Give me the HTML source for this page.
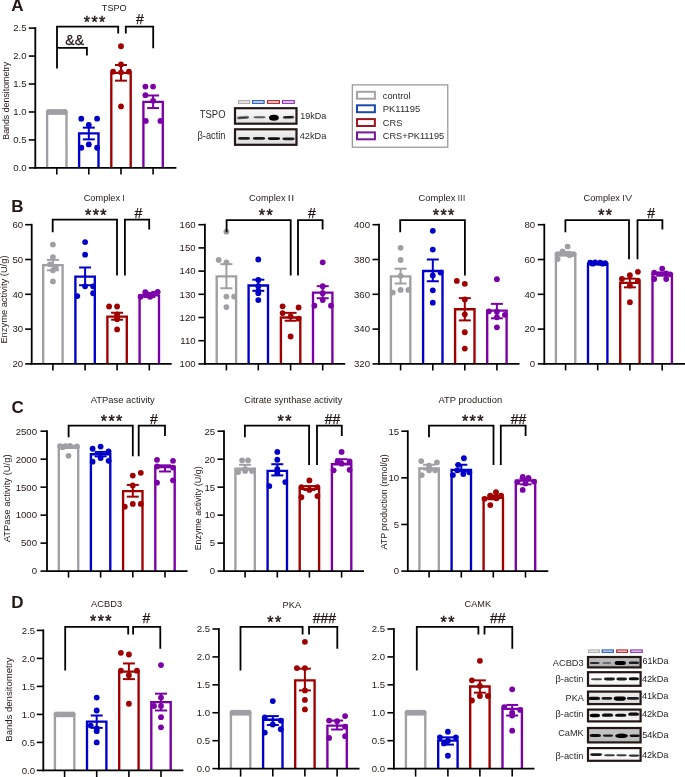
<!DOCTYPE html>
<html><head><meta charset="utf-8"><style>
html,body{margin:0;padding:0;background:#fff;width:685px;height:777px;overflow:hidden}
svg{display:block;will-change:transform}
text{font-family:"Liberation Sans", sans-serif}
</style></head><body>
<svg width="685" height="777" viewBox="0 0 685 777">
<defs><filter id="bl" x="-50%" y="-100%" width="200%" height="300%"><feGaussianBlur stdDeviation="0.7"/></filter></defs>
<rect width="685" height="777" fill="#fff"/>
<path d="M47.10,167.90 V111.98 H66.50 V167.90" fill="none" stroke="#a0a0a4" stroke-width="2.35"/>
<path d="M79.10,167.90 V133.40 H98.50 V167.90" fill="none" stroke="#0000c8" stroke-width="2.35"/>
<path d="M111.30,167.90 V72.84 H130.70 V167.90" fill="none" stroke="#a00000" stroke-width="2.35"/>
<path d="M143.40,167.90 V101.91 H162.80 V167.90" fill="none" stroke="#7b00a8" stroke-width="2.35"/>
<circle cx="48.80" cy="111.98" r="2.9" fill="#a0a0a4"/>
<circle cx="52.00" cy="111.98" r="2.9" fill="#a0a0a4"/>
<circle cx="55.20" cy="111.98" r="2.9" fill="#a0a0a4"/>
<circle cx="58.40" cy="111.98" r="2.9" fill="#a0a0a4"/>
<circle cx="61.60" cy="111.98" r="2.9" fill="#a0a0a4"/>
<circle cx="64.80" cy="111.98" r="2.9" fill="#a0a0a4"/>
<circle cx="81.30" cy="118.69" r="2.9" fill="#0000c8"/>
<circle cx="97.10" cy="118.69" r="2.9" fill="#0000c8"/>
<circle cx="88.80" cy="124.84" r="2.9" fill="#0000c8"/>
<circle cx="88.80" cy="144.41" r="2.9" fill="#0000c8"/>
<circle cx="81.30" cy="147.77" r="2.9" fill="#0000c8"/>
<circle cx="97.10" cy="147.77" r="2.9" fill="#0000c8"/>
<circle cx="121.00" cy="46.27" r="2.9" fill="#a00000"/>
<circle cx="121.00" cy="64.45" r="2.9" fill="#a00000"/>
<circle cx="113.10" cy="71.72" r="2.9" fill="#a00000"/>
<circle cx="128.90" cy="71.72" r="2.9" fill="#a00000"/>
<circle cx="121.00" cy="72.28" r="2.9" fill="#a00000"/>
<circle cx="121.00" cy="106.39" r="2.9" fill="#a00000"/>
<circle cx="145.40" cy="86.54" r="2.9" fill="#7b00a8"/>
<circle cx="153.10" cy="86.54" r="2.9" fill="#7b00a8"/>
<circle cx="145.40" cy="95.20" r="2.9" fill="#7b00a8"/>
<circle cx="153.10" cy="100.80" r="2.9" fill="#7b00a8"/>
<circle cx="145.80" cy="120.93" r="2.9" fill="#7b00a8"/>
<circle cx="160.40" cy="120.93" r="2.9" fill="#7b00a8"/>
<line x1="88.80" y1="139.38" x2="88.80" y2="127.64" stroke="#0000c8" stroke-width="2.0" stroke-linecap="butt"/>
<line x1="82.80" y1="127.64" x2="94.80" y2="127.64" stroke="#0000c8" stroke-width="2.0" stroke-linecap="butt"/>
<line x1="82.80" y1="139.38" x2="94.80" y2="139.38" stroke="#0000c8" stroke-width="2.0" stroke-linecap="butt"/>
<line x1="121.00" y1="80.66" x2="121.00" y2="65.01" stroke="#a00000" stroke-width="2.0" stroke-linecap="butt"/>
<line x1="115.00" y1="65.01" x2="127.00" y2="65.01" stroke="#a00000" stroke-width="2.0" stroke-linecap="butt"/>
<line x1="115.00" y1="80.66" x2="127.00" y2="80.66" stroke="#a00000" stroke-width="2.0" stroke-linecap="butt"/>
<line x1="153.10" y1="108.07" x2="153.10" y2="95.48" stroke="#7b00a8" stroke-width="2.0" stroke-linecap="butt"/>
<line x1="147.10" y1="95.48" x2="159.10" y2="95.48" stroke="#7b00a8" stroke-width="2.0" stroke-linecap="butt"/>
<line x1="147.10" y1="108.07" x2="159.10" y2="108.07" stroke="#7b00a8" stroke-width="2.0" stroke-linecap="butt"/>
<line x1="35.30" y1="27.20" x2="35.30" y2="168.80" stroke="#000" stroke-width="1.8" stroke-linecap="butt"/>
<line x1="34.40" y1="167.90" x2="176.40" y2="167.90" stroke="#000" stroke-width="1.8" stroke-linecap="butt"/>
<line x1="28.80" y1="167.90" x2="35.30" y2="167.90" stroke="#000" stroke-width="1.6" stroke-linecap="butt"/>
<text x="26.50" y="171.25" font-size="9.6" text-anchor="end" fill="#231815" font-family='"Liberation Sans", sans-serif'>0.0</text>
<line x1="28.80" y1="139.94" x2="35.30" y2="139.94" stroke="#000" stroke-width="1.6" stroke-linecap="butt"/>
<text x="26.50" y="143.29" font-size="9.6" text-anchor="end" fill="#231815" font-family='"Liberation Sans", sans-serif'>0.5</text>
<line x1="28.80" y1="111.98" x2="35.30" y2="111.98" stroke="#000" stroke-width="1.6" stroke-linecap="butt"/>
<text x="26.50" y="115.33" font-size="9.6" text-anchor="end" fill="#231815" font-family='"Liberation Sans", sans-serif'>1.0</text>
<line x1="28.80" y1="84.02" x2="35.30" y2="84.02" stroke="#000" stroke-width="1.6" stroke-linecap="butt"/>
<text x="26.50" y="87.37" font-size="9.6" text-anchor="end" fill="#231815" font-family='"Liberation Sans", sans-serif'>1.5</text>
<line x1="28.80" y1="56.06" x2="35.30" y2="56.06" stroke="#000" stroke-width="1.6" stroke-linecap="butt"/>
<text x="26.50" y="59.41" font-size="9.6" text-anchor="end" fill="#231815" font-family='"Liberation Sans", sans-serif'>2.0</text>
<line x1="28.80" y1="28.10" x2="35.30" y2="28.10" stroke="#000" stroke-width="1.6" stroke-linecap="butt"/>
<text x="26.50" y="31.45" font-size="9.6" text-anchor="end" fill="#231815" font-family='"Liberation Sans", sans-serif'>2.5</text>
<line x1="56.80" y1="167.90" x2="56.80" y2="174.40" stroke="#000" stroke-width="1.6" stroke-linecap="butt"/>
<line x1="88.80" y1="167.90" x2="88.80" y2="174.40" stroke="#000" stroke-width="1.6" stroke-linecap="butt"/>
<line x1="121.00" y1="167.90" x2="121.00" y2="174.40" stroke="#000" stroke-width="1.6" stroke-linecap="butt"/>
<line x1="153.10" y1="167.90" x2="153.10" y2="174.40" stroke="#000" stroke-width="1.6" stroke-linecap="butt"/>
<text x="101.80" y="11.00" font-size="9.3" fill="#231815" font-family='"Liberation Sans", sans-serif' textLength="24.90" lengthAdjust="spacingAndGlyphs" >TSPO</text>
<text x="0" y="0" font-size="9.3" fill="#231815" font-family='"Liberation Sans", sans-serif' textLength="77.80" lengthAdjust="spacingAndGlyphs" transform="translate(8.75,139.70) rotate(-90)">Bands densitometry</text>
<polyline points="57.00,68.60 57.00,26.60 118.20,26.60 118.20,33.60" fill="none" stroke="#000" stroke-width="1.8" stroke-linejoin="miter"/>
<text x="83.84" y="28.01" font-size="16" fill="#231815" stroke="#231815" stroke-width="0.45" font-family='"Liberation Sans", sans-serif' letter-spacing="1.4">***</text>
<polyline points="125.80,33.60 125.80,26.60 153.20,26.60 153.20,48.20" fill="none" stroke="#000" stroke-width="1.8" stroke-linejoin="miter"/>
<text x="135.95" y="23.50" font-size="14" fill="#231815" stroke="#231815" stroke-width="0.25" font-family='"Liberation Sans", sans-serif'>#</text>
<polyline points="57.00,47.90 86.90,47.90 86.90,55.50" fill="none" stroke="#000" stroke-width="1.8" stroke-linejoin="miter"/>
<text x="65.35" y="45.40" font-size="14" fill="#231815" stroke="#231815" stroke-width="0.25" font-family='"Liberation Sans", sans-serif'>&amp;&amp;</text>
<path d="M43.20,363.90 V265.07 H62.60 V363.90" fill="none" stroke="#a0a0a4" stroke-width="2.35"/>
<path d="M75.40,363.90 V276.55 H94.80 V363.90" fill="none" stroke="#0000c8" stroke-width="2.35"/>
<path d="M107.40,363.90 V316.57 H126.80 V363.90" fill="none" stroke="#a00000" stroke-width="2.35"/>
<path d="M139.60,363.90 V295.34 H159.00 V363.90" fill="none" stroke="#7b00a8" stroke-width="2.35"/>
<circle cx="52.90" cy="244.54" r="2.9" fill="#a0a0a4"/>
<circle cx="52.90" cy="257.06" r="2.9" fill="#a0a0a4"/>
<circle cx="49.90" cy="264.37" r="2.9" fill="#a0a0a4"/>
<circle cx="52.90" cy="270.29" r="2.9" fill="#a0a0a4"/>
<circle cx="55.90" cy="268.20" r="2.9" fill="#a0a0a4"/>
<circle cx="52.90" cy="281.42" r="2.9" fill="#a0a0a4"/>
<circle cx="85.10" cy="242.10" r="2.9" fill="#0000c8"/>
<circle cx="85.10" cy="254.63" r="2.9" fill="#0000c8"/>
<circle cx="85.10" cy="286.30" r="2.9" fill="#0000c8"/>
<circle cx="77.30" cy="296.04" r="2.9" fill="#0000c8"/>
<circle cx="93.10" cy="293.26" r="2.9" fill="#0000c8"/>
<circle cx="93.10" cy="286.30" r="2.9" fill="#0000c8"/>
<circle cx="109.10" cy="306.48" r="2.9" fill="#a00000"/>
<circle cx="117.10" cy="306.48" r="2.9" fill="#a00000"/>
<circle cx="117.10" cy="319.36" r="2.9" fill="#a00000"/>
<circle cx="117.10" cy="317.27" r="2.9" fill="#a00000"/>
<circle cx="117.10" cy="314.48" r="2.9" fill="#a00000"/>
<circle cx="117.10" cy="329.45" r="2.9" fill="#a00000"/>
<circle cx="145.30" cy="292.21" r="2.9" fill="#7b00a8"/>
<circle cx="157.70" cy="291.86" r="2.9" fill="#7b00a8"/>
<circle cx="150.10" cy="296.74" r="2.9" fill="#7b00a8"/>
<circle cx="140.60" cy="296.74" r="2.9" fill="#7b00a8"/>
<circle cx="153.30" cy="293.60" r="2.9" fill="#7b00a8"/>
<circle cx="148.30" cy="294.30" r="2.9" fill="#7b00a8"/>
<line x1="52.90" y1="270.29" x2="52.90" y2="259.85" stroke="#a0a0a4" stroke-width="2.0" stroke-linecap="butt"/>
<line x1="46.90" y1="259.85" x2="58.90" y2="259.85" stroke="#a0a0a4" stroke-width="2.0" stroke-linecap="butt"/>
<line x1="46.90" y1="270.29" x2="58.90" y2="270.29" stroke="#a0a0a4" stroke-width="2.0" stroke-linecap="butt"/>
<line x1="85.10" y1="285.25" x2="85.10" y2="267.50" stroke="#0000c8" stroke-width="2.0" stroke-linecap="butt"/>
<line x1="79.10" y1="267.50" x2="91.10" y2="267.50" stroke="#0000c8" stroke-width="2.0" stroke-linecap="butt"/>
<line x1="79.10" y1="285.25" x2="91.10" y2="285.25" stroke="#0000c8" stroke-width="2.0" stroke-linecap="butt"/>
<line x1="117.10" y1="319.70" x2="117.10" y2="312.74" stroke="#a00000" stroke-width="2.0" stroke-linecap="butt"/>
<line x1="111.10" y1="312.74" x2="123.10" y2="312.74" stroke="#a00000" stroke-width="2.0" stroke-linecap="butt"/>
<line x1="111.10" y1="319.70" x2="123.10" y2="319.70" stroke="#a00000" stroke-width="2.0" stroke-linecap="butt"/>
<line x1="149.30" y1="297.08" x2="149.30" y2="293.60" stroke="#7b00a8" stroke-width="2.0" stroke-linecap="butt"/>
<line x1="143.30" y1="293.60" x2="155.30" y2="293.60" stroke="#7b00a8" stroke-width="2.0" stroke-linecap="butt"/>
<line x1="143.30" y1="297.08" x2="155.30" y2="297.08" stroke="#7b00a8" stroke-width="2.0" stroke-linecap="butt"/>
<line x1="31.70" y1="223.80" x2="31.70" y2="364.80" stroke="#000" stroke-width="1.8" stroke-linecap="butt"/>
<line x1="30.80" y1="363.90" x2="171.70" y2="363.90" stroke="#000" stroke-width="1.8" stroke-linecap="butt"/>
<line x1="25.20" y1="363.90" x2="31.70" y2="363.90" stroke="#000" stroke-width="1.6" stroke-linecap="butt"/>
<text x="23.20" y="367.25" font-size="9.6" text-anchor="end" fill="#231815" font-family='"Liberation Sans", sans-serif'>20</text>
<line x1="25.20" y1="329.10" x2="31.70" y2="329.10" stroke="#000" stroke-width="1.6" stroke-linecap="butt"/>
<text x="23.20" y="332.45" font-size="9.6" text-anchor="end" fill="#231815" font-family='"Liberation Sans", sans-serif'>30</text>
<line x1="25.20" y1="294.30" x2="31.70" y2="294.30" stroke="#000" stroke-width="1.6" stroke-linecap="butt"/>
<text x="23.20" y="297.65" font-size="9.6" text-anchor="end" fill="#231815" font-family='"Liberation Sans", sans-serif'>40</text>
<line x1="25.20" y1="259.50" x2="31.70" y2="259.50" stroke="#000" stroke-width="1.6" stroke-linecap="butt"/>
<text x="23.20" y="262.85" font-size="9.6" text-anchor="end" fill="#231815" font-family='"Liberation Sans", sans-serif'>50</text>
<line x1="25.20" y1="224.70" x2="31.70" y2="224.70" stroke="#000" stroke-width="1.6" stroke-linecap="butt"/>
<text x="23.20" y="228.05" font-size="9.6" text-anchor="end" fill="#231815" font-family='"Liberation Sans", sans-serif'>60</text>
<line x1="52.90" y1="363.90" x2="52.90" y2="370.40" stroke="#000" stroke-width="1.6" stroke-linecap="butt"/>
<line x1="85.10" y1="363.90" x2="85.10" y2="370.40" stroke="#000" stroke-width="1.6" stroke-linecap="butt"/>
<line x1="117.10" y1="363.90" x2="117.10" y2="370.40" stroke="#000" stroke-width="1.6" stroke-linecap="butt"/>
<line x1="149.30" y1="363.90" x2="149.30" y2="370.40" stroke="#000" stroke-width="1.6" stroke-linecap="butt"/>
<text x="83.70" y="201.10" font-size="9.3" fill="#231815" font-family='"Liberation Sans", sans-serif' textLength="36.40" lengthAdjust="spacingAndGlyphs" >Complex</text>
<text x="122.10" y="201.10" font-size="9.6" fill="#4a4446" font-family='"Liberation Serif", serif' textLength="2.90" lengthAdjust="spacingAndGlyphs" >I</text>
<text x="0" y="0" font-size="9.3" fill="#231815" font-family='"Liberation Sans", sans-serif' textLength="88.10" lengthAdjust="spacingAndGlyphs" transform="translate(6.50,343.60) rotate(-90)">Enzyme activity (U/g)</text>
<polyline points="52.70,232.30 52.70,219.60 117.00,219.60 117.00,275.50" fill="none" stroke="#000" stroke-width="1.8" stroke-linejoin="miter"/>
<text x="85.04" y="221.11" font-size="16" fill="#231815" stroke="#231815" stroke-width="0.45" font-family='"Liberation Sans", sans-serif' letter-spacing="1.4">***</text>
<polyline points="124.90,275.50 124.90,219.60 149.20,219.60 149.20,229.60" fill="none" stroke="#000" stroke-width="1.8" stroke-linejoin="miter"/>
<text x="134.45" y="217.60" font-size="14" fill="#231815" stroke="#231815" stroke-width="0.25" font-family='"Liberation Sans", sans-serif'>#</text>
<path d="M216.70,363.90 V276.44 H236.10 V363.90" fill="none" stroke="#a0a0a4" stroke-width="2.35"/>
<path d="M248.60,363.90 V285.48 H268.00 V363.90" fill="none" stroke="#0000c8" stroke-width="2.35"/>
<path d="M280.90,363.90 V317.50 H300.30 V363.90" fill="none" stroke="#a00000" stroke-width="2.35"/>
<path d="M313.00,363.90 V292.68 H332.40 V363.90" fill="none" stroke="#7b00a8" stroke-width="2.35"/>
<circle cx="226.40" cy="231.66" r="2.9" fill="#a0a0a4"/>
<circle cx="218.70" cy="259.96" r="2.9" fill="#a0a0a4"/>
<circle cx="226.40" cy="262.52" r="2.9" fill="#a0a0a4"/>
<circle cx="226.40" cy="296.62" r="2.9" fill="#a0a0a4"/>
<circle cx="234.10" cy="296.62" r="2.9" fill="#a0a0a4"/>
<circle cx="226.40" cy="307.06" r="2.9" fill="#a0a0a4"/>
<circle cx="258.30" cy="259.50" r="2.9" fill="#0000c8"/>
<circle cx="258.30" cy="279.92" r="2.9" fill="#0000c8"/>
<circle cx="258.30" cy="286.18" r="2.9" fill="#0000c8"/>
<circle cx="258.30" cy="290.82" r="2.9" fill="#0000c8"/>
<circle cx="258.30" cy="293.14" r="2.9" fill="#0000c8"/>
<circle cx="258.30" cy="300.10" r="2.9" fill="#0000c8"/>
<circle cx="282.60" cy="306.36" r="2.9" fill="#a00000"/>
<circle cx="298.60" cy="307.52" r="2.9" fill="#a00000"/>
<circle cx="282.60" cy="313.09" r="2.9" fill="#a00000"/>
<circle cx="290.60" cy="316.34" r="2.9" fill="#a00000"/>
<circle cx="298.60" cy="318.66" r="2.9" fill="#a00000"/>
<circle cx="290.60" cy="336.52" r="2.9" fill="#a00000"/>
<circle cx="322.70" cy="262.28" r="2.9" fill="#7b00a8"/>
<circle cx="322.70" cy="286.18" r="2.9" fill="#7b00a8"/>
<circle cx="322.70" cy="293.14" r="2.9" fill="#7b00a8"/>
<circle cx="322.70" cy="300.10" r="2.9" fill="#7b00a8"/>
<circle cx="314.40" cy="305.67" r="2.9" fill="#7b00a8"/>
<circle cx="331.00" cy="305.67" r="2.9" fill="#7b00a8"/>
<line x1="226.40" y1="288.27" x2="226.40" y2="264.14" stroke="#a0a0a4" stroke-width="2.0" stroke-linecap="butt"/>
<line x1="220.40" y1="264.14" x2="232.40" y2="264.14" stroke="#a0a0a4" stroke-width="2.0" stroke-linecap="butt"/>
<line x1="220.40" y1="288.27" x2="232.40" y2="288.27" stroke="#a0a0a4" stroke-width="2.0" stroke-linecap="butt"/>
<line x1="258.30" y1="290.82" x2="258.30" y2="279.68" stroke="#0000c8" stroke-width="2.0" stroke-linecap="butt"/>
<line x1="252.30" y1="279.68" x2="264.30" y2="279.68" stroke="#0000c8" stroke-width="2.0" stroke-linecap="butt"/>
<line x1="252.30" y1="290.82" x2="264.30" y2="290.82" stroke="#0000c8" stroke-width="2.0" stroke-linecap="butt"/>
<line x1="290.60" y1="320.75" x2="290.60" y2="312.86" stroke="#a00000" stroke-width="2.0" stroke-linecap="butt"/>
<line x1="284.60" y1="312.86" x2="296.60" y2="312.86" stroke="#a00000" stroke-width="2.0" stroke-linecap="butt"/>
<line x1="284.60" y1="320.75" x2="296.60" y2="320.75" stroke="#a00000" stroke-width="2.0" stroke-linecap="butt"/>
<line x1="322.70" y1="298.24" x2="322.70" y2="286.18" stroke="#7b00a8" stroke-width="2.0" stroke-linecap="butt"/>
<line x1="316.70" y1="286.18" x2="328.70" y2="286.18" stroke="#7b00a8" stroke-width="2.0" stroke-linecap="butt"/>
<line x1="316.70" y1="298.24" x2="328.70" y2="298.24" stroke="#7b00a8" stroke-width="2.0" stroke-linecap="butt"/>
<line x1="204.90" y1="223.80" x2="204.90" y2="364.80" stroke="#000" stroke-width="1.8" stroke-linecap="butt"/>
<line x1="204.00" y1="363.90" x2="345.20" y2="363.90" stroke="#000" stroke-width="1.8" stroke-linecap="butt"/>
<line x1="198.40" y1="363.90" x2="204.90" y2="363.90" stroke="#000" stroke-width="1.6" stroke-linecap="butt"/>
<text x="195.60" y="367.25" font-size="9.6" text-anchor="end" fill="#231815" font-family='"Liberation Sans", sans-serif'>100</text>
<line x1="198.40" y1="340.70" x2="204.90" y2="340.70" stroke="#000" stroke-width="1.6" stroke-linecap="butt"/>
<text x="195.60" y="344.05" font-size="9.6" text-anchor="end" fill="#231815" font-family='"Liberation Sans", sans-serif'>110</text>
<line x1="198.40" y1="317.50" x2="204.90" y2="317.50" stroke="#000" stroke-width="1.6" stroke-linecap="butt"/>
<text x="195.60" y="320.85" font-size="9.6" text-anchor="end" fill="#231815" font-family='"Liberation Sans", sans-serif'>120</text>
<line x1="198.40" y1="294.30" x2="204.90" y2="294.30" stroke="#000" stroke-width="1.6" stroke-linecap="butt"/>
<text x="195.60" y="297.65" font-size="9.6" text-anchor="end" fill="#231815" font-family='"Liberation Sans", sans-serif'>130</text>
<line x1="198.40" y1="271.10" x2="204.90" y2="271.10" stroke="#000" stroke-width="1.6" stroke-linecap="butt"/>
<text x="195.60" y="274.45" font-size="9.6" text-anchor="end" fill="#231815" font-family='"Liberation Sans", sans-serif'>140</text>
<line x1="198.40" y1="247.90" x2="204.90" y2="247.90" stroke="#000" stroke-width="1.6" stroke-linecap="butt"/>
<text x="195.60" y="251.25" font-size="9.6" text-anchor="end" fill="#231815" font-family='"Liberation Sans", sans-serif'>150</text>
<line x1="198.40" y1="224.70" x2="204.90" y2="224.70" stroke="#000" stroke-width="1.6" stroke-linecap="butt"/>
<text x="195.60" y="228.05" font-size="9.6" text-anchor="end" fill="#231815" font-family='"Liberation Sans", sans-serif'>160</text>
<line x1="226.40" y1="363.90" x2="226.40" y2="370.40" stroke="#000" stroke-width="1.6" stroke-linecap="butt"/>
<line x1="258.30" y1="363.90" x2="258.30" y2="370.40" stroke="#000" stroke-width="1.6" stroke-linecap="butt"/>
<line x1="290.60" y1="363.90" x2="290.60" y2="370.40" stroke="#000" stroke-width="1.6" stroke-linecap="butt"/>
<line x1="322.70" y1="363.90" x2="322.70" y2="370.40" stroke="#000" stroke-width="1.6" stroke-linecap="butt"/>
<text x="249.10" y="201.40" font-size="9.3" fill="#231815" font-family='"Liberation Sans", sans-serif' textLength="36.50" lengthAdjust="spacingAndGlyphs" >Complex</text>
<text x="287.60" y="201.40" font-size="9.6" fill="#4a4446" font-family='"Liberation Serif", serif' textLength="6.90" lengthAdjust="spacingAndGlyphs" >II</text>
<polyline points="226.60,232.30 226.60,220.10 290.70,220.10 290.70,275.50" fill="none" stroke="#000" stroke-width="1.8" stroke-linejoin="miter"/>
<text x="258.84" y="221.01" font-size="16" fill="#231815" stroke="#231815" stroke-width="0.45" font-family='"Liberation Sans", sans-serif' letter-spacing="1.4">**</text>
<polyline points="298.00,275.50 298.00,220.10 322.60,220.10 322.60,229.60" fill="none" stroke="#000" stroke-width="1.8" stroke-linejoin="miter"/>
<text x="307.95" y="217.80" font-size="14" fill="#231815" stroke="#231815" stroke-width="0.25" font-family='"Liberation Sans", sans-serif'>#</text>
<path d="M390.90,363.90 V276.38 H410.30 V363.90" fill="none" stroke="#a0a0a4" stroke-width="2.35"/>
<path d="M423.10,363.90 V270.98 H442.50 V363.90" fill="none" stroke="#0000c8" stroke-width="2.35"/>
<path d="M455.10,363.90 V309.26 H474.50 V363.90" fill="none" stroke="#a00000" stroke-width="2.35"/>
<path d="M487.20,363.90 V310.66 H506.60 V363.90" fill="none" stroke="#7b00a8" stroke-width="2.35"/>
<circle cx="400.60" cy="247.84" r="2.9" fill="#a0a0a4"/>
<circle cx="400.60" cy="260.02" r="2.9" fill="#a0a0a4"/>
<circle cx="400.60" cy="275.86" r="2.9" fill="#a0a0a4"/>
<circle cx="392.80" cy="292.56" r="2.9" fill="#a0a0a4"/>
<circle cx="400.60" cy="289.95" r="2.9" fill="#a0a0a4"/>
<circle cx="408.40" cy="289.95" r="2.9" fill="#a0a0a4"/>
<circle cx="432.80" cy="230.79" r="2.9" fill="#0000c8"/>
<circle cx="432.80" cy="249.58" r="2.9" fill="#0000c8"/>
<circle cx="432.80" cy="275.51" r="2.9" fill="#0000c8"/>
<circle cx="440.60" cy="272.55" r="2.9" fill="#0000c8"/>
<circle cx="432.80" cy="290.30" r="2.9" fill="#0000c8"/>
<circle cx="432.80" cy="302.65" r="2.9" fill="#0000c8"/>
<circle cx="456.80" cy="280.90" r="2.9" fill="#a00000"/>
<circle cx="464.80" cy="283.86" r="2.9" fill="#a00000"/>
<circle cx="464.80" cy="299.52" r="2.9" fill="#a00000"/>
<circle cx="464.80" cy="314.31" r="2.9" fill="#a00000"/>
<circle cx="464.80" cy="332.23" r="2.9" fill="#a00000"/>
<circle cx="464.80" cy="348.59" r="2.9" fill="#a00000"/>
<circle cx="496.90" cy="279.16" r="2.9" fill="#7b00a8"/>
<circle cx="488.90" cy="311.35" r="2.9" fill="#7b00a8"/>
<circle cx="496.90" cy="311.70" r="2.9" fill="#7b00a8"/>
<circle cx="504.90" cy="314.83" r="2.9" fill="#7b00a8"/>
<circle cx="496.90" cy="317.27" r="2.9" fill="#7b00a8"/>
<circle cx="496.90" cy="327.36" r="2.9" fill="#7b00a8"/>
<line x1="400.60" y1="283.51" x2="400.60" y2="268.72" stroke="#a0a0a4" stroke-width="2.0" stroke-linecap="butt"/>
<line x1="394.60" y1="268.72" x2="406.60" y2="268.72" stroke="#a0a0a4" stroke-width="2.0" stroke-linecap="butt"/>
<line x1="394.60" y1="283.51" x2="406.60" y2="283.51" stroke="#a0a0a4" stroke-width="2.0" stroke-linecap="butt"/>
<line x1="432.80" y1="281.25" x2="432.80" y2="259.50" stroke="#0000c8" stroke-width="2.0" stroke-linecap="butt"/>
<line x1="426.80" y1="259.50" x2="438.80" y2="259.50" stroke="#0000c8" stroke-width="2.0" stroke-linecap="butt"/>
<line x1="426.80" y1="281.25" x2="438.80" y2="281.25" stroke="#0000c8" stroke-width="2.0" stroke-linecap="butt"/>
<line x1="464.80" y1="320.40" x2="464.80" y2="298.13" stroke="#a00000" stroke-width="2.0" stroke-linecap="butt"/>
<line x1="458.80" y1="298.13" x2="470.80" y2="298.13" stroke="#a00000" stroke-width="2.0" stroke-linecap="butt"/>
<line x1="458.80" y1="320.40" x2="470.80" y2="320.40" stroke="#a00000" stroke-width="2.0" stroke-linecap="butt"/>
<line x1="496.90" y1="318.31" x2="496.90" y2="303.87" stroke="#7b00a8" stroke-width="2.0" stroke-linecap="butt"/>
<line x1="490.90" y1="303.87" x2="502.90" y2="303.87" stroke="#7b00a8" stroke-width="2.0" stroke-linecap="butt"/>
<line x1="490.90" y1="318.31" x2="502.90" y2="318.31" stroke="#7b00a8" stroke-width="2.0" stroke-linecap="butt"/>
<line x1="379.00" y1="223.80" x2="379.00" y2="364.80" stroke="#000" stroke-width="1.8" stroke-linecap="butt"/>
<line x1="378.10" y1="363.90" x2="519.50" y2="363.90" stroke="#000" stroke-width="1.8" stroke-linecap="butt"/>
<line x1="372.50" y1="363.90" x2="379.00" y2="363.90" stroke="#000" stroke-width="1.6" stroke-linecap="butt"/>
<text x="370.00" y="367.25" font-size="9.6" text-anchor="end" fill="#231815" font-family='"Liberation Sans", sans-serif'>320</text>
<line x1="372.50" y1="329.10" x2="379.00" y2="329.10" stroke="#000" stroke-width="1.6" stroke-linecap="butt"/>
<text x="370.00" y="332.45" font-size="9.6" text-anchor="end" fill="#231815" font-family='"Liberation Sans", sans-serif'>340</text>
<line x1="372.50" y1="294.30" x2="379.00" y2="294.30" stroke="#000" stroke-width="1.6" stroke-linecap="butt"/>
<text x="370.00" y="297.65" font-size="9.6" text-anchor="end" fill="#231815" font-family='"Liberation Sans", sans-serif'>360</text>
<line x1="372.50" y1="259.50" x2="379.00" y2="259.50" stroke="#000" stroke-width="1.6" stroke-linecap="butt"/>
<text x="370.00" y="262.85" font-size="9.6" text-anchor="end" fill="#231815" font-family='"Liberation Sans", sans-serif'>380</text>
<line x1="372.50" y1="224.70" x2="379.00" y2="224.70" stroke="#000" stroke-width="1.6" stroke-linecap="butt"/>
<text x="370.00" y="228.05" font-size="9.6" text-anchor="end" fill="#231815" font-family='"Liberation Sans", sans-serif'>400</text>
<line x1="400.60" y1="363.90" x2="400.60" y2="370.40" stroke="#000" stroke-width="1.6" stroke-linecap="butt"/>
<line x1="432.80" y1="363.90" x2="432.80" y2="370.40" stroke="#000" stroke-width="1.6" stroke-linecap="butt"/>
<line x1="464.80" y1="363.90" x2="464.80" y2="370.40" stroke="#000" stroke-width="1.6" stroke-linecap="butt"/>
<line x1="496.90" y1="363.90" x2="496.90" y2="370.40" stroke="#000" stroke-width="1.6" stroke-linecap="butt"/>
<text x="418.60" y="201.40" font-size="9.3" fill="#231815" font-family='"Liberation Sans", sans-serif' textLength="36.80" lengthAdjust="spacingAndGlyphs" >Complex</text>
<text x="457.40" y="201.40" font-size="9.6" fill="#4a4446" font-family='"Liberation Serif", serif' textLength="8.00" lengthAdjust="spacingAndGlyphs" >III</text>
<polyline points="400.20,232.30 400.20,220.10 464.90,220.10 464.90,275.50" fill="none" stroke="#000" stroke-width="1.8" stroke-linejoin="miter"/>
<text x="432.84" y="221.31" font-size="16" fill="#231815" stroke="#231815" stroke-width="0.45" font-family='"Liberation Sans", sans-serif' letter-spacing="1.4">***</text>
<path d="M555.90,363.90 V253.93 H575.30 V363.90" fill="none" stroke="#a0a0a4" stroke-width="2.35"/>
<path d="M588.00,363.90 V263.85 H607.40 V363.90" fill="none" stroke="#0000c8" stroke-width="2.35"/>
<path d="M620.20,363.90 V282.82 H639.60 V363.90" fill="none" stroke="#a00000" stroke-width="2.35"/>
<path d="M652.50,363.90 V274.12 H671.90 V363.90" fill="none" stroke="#7b00a8" stroke-width="2.35"/>
<circle cx="567.60" cy="246.62" r="2.9" fill="#a0a0a4"/>
<circle cx="557.60" cy="254.11" r="2.9" fill="#a0a0a4"/>
<circle cx="562.60" cy="251.32" r="2.9" fill="#a0a0a4"/>
<circle cx="569.60" cy="255.15" r="2.9" fill="#a0a0a4"/>
<circle cx="573.60" cy="254.11" r="2.9" fill="#a0a0a4"/>
<circle cx="557.60" cy="258.98" r="2.9" fill="#a0a0a4"/>
<circle cx="590.20" cy="262.63" r="2.9" fill="#0000c8"/>
<circle cx="595.20" cy="262.28" r="2.9" fill="#0000c8"/>
<circle cx="600.20" cy="262.63" r="2.9" fill="#0000c8"/>
<circle cx="605.20" cy="263.15" r="2.9" fill="#0000c8"/>
<circle cx="592.70" cy="263.68" r="2.9" fill="#0000c8"/>
<circle cx="602.70" cy="263.68" r="2.9" fill="#0000c8"/>
<circle cx="621.90" cy="278.99" r="2.9" fill="#a00000"/>
<circle cx="629.90" cy="275.16" r="2.9" fill="#a00000"/>
<circle cx="637.90" cy="271.85" r="2.9" fill="#a00000"/>
<circle cx="637.90" cy="280.73" r="2.9" fill="#a00000"/>
<circle cx="629.90" cy="285.60" r="2.9" fill="#a00000"/>
<circle cx="629.90" cy="302.13" r="2.9" fill="#a00000"/>
<circle cx="662.20" cy="268.55" r="2.9" fill="#7b00a8"/>
<circle cx="654.20" cy="272.55" r="2.9" fill="#7b00a8"/>
<circle cx="666.20" cy="273.42" r="2.9" fill="#7b00a8"/>
<circle cx="670.20" cy="274.29" r="2.9" fill="#7b00a8"/>
<circle cx="654.20" cy="278.99" r="2.9" fill="#7b00a8"/>
<circle cx="666.20" cy="278.99" r="2.9" fill="#7b00a8"/>
<line x1="565.60" y1="255.67" x2="565.60" y2="252.02" stroke="#a0a0a4" stroke-width="2.0" stroke-linecap="butt"/>
<line x1="559.60" y1="252.02" x2="571.60" y2="252.02" stroke="#a0a0a4" stroke-width="2.0" stroke-linecap="butt"/>
<line x1="559.60" y1="255.67" x2="571.60" y2="255.67" stroke="#a0a0a4" stroke-width="2.0" stroke-linecap="butt"/>
<line x1="597.70" y1="264.55" x2="597.70" y2="262.98" stroke="#0000c8" stroke-width="2.0" stroke-linecap="butt"/>
<line x1="591.70" y1="262.98" x2="603.70" y2="262.98" stroke="#0000c8" stroke-width="2.0" stroke-linecap="butt"/>
<line x1="591.70" y1="264.55" x2="603.70" y2="264.55" stroke="#0000c8" stroke-width="2.0" stroke-linecap="butt"/>
<line x1="629.90" y1="287.34" x2="629.90" y2="278.64" stroke="#a00000" stroke-width="2.0" stroke-linecap="butt"/>
<line x1="623.90" y1="278.64" x2="635.90" y2="278.64" stroke="#a00000" stroke-width="2.0" stroke-linecap="butt"/>
<line x1="623.90" y1="287.34" x2="635.90" y2="287.34" stroke="#a00000" stroke-width="2.0" stroke-linecap="butt"/>
<line x1="662.20" y1="275.68" x2="662.20" y2="272.38" stroke="#7b00a8" stroke-width="2.0" stroke-linecap="butt"/>
<line x1="656.20" y1="272.38" x2="668.20" y2="272.38" stroke="#7b00a8" stroke-width="2.0" stroke-linecap="butt"/>
<line x1="656.20" y1="275.68" x2="668.20" y2="275.68" stroke="#7b00a8" stroke-width="2.0" stroke-linecap="butt"/>
<line x1="544.30" y1="223.80" x2="544.30" y2="364.80" stroke="#000" stroke-width="1.8" stroke-linecap="butt"/>
<line x1="543.40" y1="363.90" x2="685.00" y2="363.90" stroke="#000" stroke-width="1.8" stroke-linecap="butt"/>
<line x1="537.80" y1="363.90" x2="544.30" y2="363.90" stroke="#000" stroke-width="1.6" stroke-linecap="butt"/>
<text x="535.10" y="367.25" font-size="9.6" text-anchor="end" fill="#231815" font-family='"Liberation Sans", sans-serif'>0</text>
<line x1="537.80" y1="329.10" x2="544.30" y2="329.10" stroke="#000" stroke-width="1.6" stroke-linecap="butt"/>
<text x="535.10" y="332.45" font-size="9.6" text-anchor="end" fill="#231815" font-family='"Liberation Sans", sans-serif'>20</text>
<line x1="537.80" y1="294.30" x2="544.30" y2="294.30" stroke="#000" stroke-width="1.6" stroke-linecap="butt"/>
<text x="535.10" y="297.65" font-size="9.6" text-anchor="end" fill="#231815" font-family='"Liberation Sans", sans-serif'>40</text>
<line x1="537.80" y1="259.50" x2="544.30" y2="259.50" stroke="#000" stroke-width="1.6" stroke-linecap="butt"/>
<text x="535.10" y="262.85" font-size="9.6" text-anchor="end" fill="#231815" font-family='"Liberation Sans", sans-serif'>60</text>
<line x1="537.80" y1="224.70" x2="544.30" y2="224.70" stroke="#000" stroke-width="1.6" stroke-linecap="butt"/>
<text x="535.10" y="228.05" font-size="9.6" text-anchor="end" fill="#231815" font-family='"Liberation Sans", sans-serif'>80</text>
<line x1="565.60" y1="363.90" x2="565.60" y2="370.40" stroke="#000" stroke-width="1.6" stroke-linecap="butt"/>
<line x1="597.70" y1="363.90" x2="597.70" y2="370.40" stroke="#000" stroke-width="1.6" stroke-linecap="butt"/>
<line x1="629.90" y1="363.90" x2="629.90" y2="370.40" stroke="#000" stroke-width="1.6" stroke-linecap="butt"/>
<line x1="662.20" y1="363.90" x2="662.20" y2="370.40" stroke="#000" stroke-width="1.6" stroke-linecap="butt"/>
<text x="583.50" y="201.40" font-size="9.3" fill="#231815" font-family='"Liberation Sans", sans-serif' textLength="36.40" lengthAdjust="spacingAndGlyphs" >Complex</text>
<text x="621.90" y="201.40" font-size="9.6" fill="#4a4446" font-family='"Liberation Serif", serif' textLength="10.30" lengthAdjust="spacingAndGlyphs" >IV</text>
<polyline points="565.40,232.30 565.40,220.10 629.00,220.10 629.00,259.30" fill="none" stroke="#000" stroke-width="1.8" stroke-linejoin="miter"/>
<text x="598.14" y="221.01" font-size="16" fill="#231815" stroke="#231815" stroke-width="0.45" font-family='"Liberation Sans", sans-serif' letter-spacing="1.4">**</text>
<polyline points="637.50,259.30 637.50,220.10 662.40,220.10 662.40,229.60" fill="none" stroke="#000" stroke-width="1.8" stroke-linejoin="miter"/>
<text x="647.15" y="217.80" font-size="14" fill="#231815" stroke="#231815" stroke-width="0.25" font-family='"Liberation Sans", sans-serif'>#</text>
<path d="M58.80,571.10 V447.60 H78.20 V571.10" fill="none" stroke="#a0a0a4" stroke-width="2.35"/>
<path d="M90.90,571.10 V454.20 H110.30 V571.10" fill="none" stroke="#0000c8" stroke-width="2.35"/>
<path d="M123.10,571.10 V491.19 H142.50 V571.10" fill="none" stroke="#a00000" stroke-width="2.35"/>
<path d="M155.30,571.10 V467.01 H174.70 V571.10" fill="none" stroke="#7b00a8" stroke-width="2.35"/>
<circle cx="60.00" cy="446.03" r="2.9" fill="#a0a0a4"/>
<circle cx="65.50" cy="446.20" r="2.9" fill="#a0a0a4"/>
<circle cx="70.00" cy="445.86" r="2.9" fill="#a0a0a4"/>
<circle cx="77.00" cy="446.42" r="2.9" fill="#a0a0a4"/>
<circle cx="62.50" cy="447.15" r="2.9" fill="#a0a0a4"/>
<circle cx="68.50" cy="455.82" r="2.9" fill="#a0a0a4"/>
<circle cx="92.60" cy="448.77" r="2.9" fill="#0000c8"/>
<circle cx="100.60" cy="446.59" r="2.9" fill="#0000c8"/>
<circle cx="108.60" cy="451.29" r="2.9" fill="#0000c8"/>
<circle cx="92.60" cy="461.70" r="2.9" fill="#0000c8"/>
<circle cx="100.60" cy="458.00" r="2.9" fill="#0000c8"/>
<circle cx="108.60" cy="460.80" r="2.9" fill="#0000c8"/>
<circle cx="132.80" cy="475.58" r="2.9" fill="#a00000"/>
<circle cx="140.80" cy="472.78" r="2.9" fill="#a00000"/>
<circle cx="132.80" cy="485.48" r="2.9" fill="#a00000"/>
<circle cx="124.80" cy="506.75" r="2.9" fill="#a00000"/>
<circle cx="132.80" cy="503.95" r="2.9" fill="#a00000"/>
<circle cx="140.80" cy="503.95" r="2.9" fill="#a00000"/>
<circle cx="157.00" cy="459.80" r="2.9" fill="#7b00a8"/>
<circle cx="173.00" cy="460.80" r="2.9" fill="#7b00a8"/>
<circle cx="157.00" cy="466.51" r="2.9" fill="#7b00a8"/>
<circle cx="173.00" cy="467.57" r="2.9" fill="#7b00a8"/>
<circle cx="157.00" cy="482.63" r="2.9" fill="#7b00a8"/>
<circle cx="173.00" cy="480.33" r="2.9" fill="#7b00a8"/>
<line x1="68.50" y1="447.99" x2="68.50" y2="445.75" stroke="#a0a0a4" stroke-width="2.0" stroke-linecap="butt"/>
<line x1="62.50" y1="445.75" x2="74.50" y2="445.75" stroke="#a0a0a4" stroke-width="2.0" stroke-linecap="butt"/>
<line x1="62.50" y1="447.99" x2="74.50" y2="447.99" stroke="#a0a0a4" stroke-width="2.0" stroke-linecap="butt"/>
<line x1="100.60" y1="456.38" x2="100.60" y2="451.91" stroke="#0000c8" stroke-width="2.0" stroke-linecap="butt"/>
<line x1="94.60" y1="451.91" x2="106.60" y2="451.91" stroke="#0000c8" stroke-width="2.0" stroke-linecap="butt"/>
<line x1="94.60" y1="456.38" x2="106.60" y2="456.38" stroke="#0000c8" stroke-width="2.0" stroke-linecap="butt"/>
<line x1="132.80" y1="496.67" x2="132.80" y2="484.92" stroke="#a00000" stroke-width="2.0" stroke-linecap="butt"/>
<line x1="126.80" y1="484.92" x2="138.80" y2="484.92" stroke="#a00000" stroke-width="2.0" stroke-linecap="butt"/>
<line x1="126.80" y1="496.67" x2="138.80" y2="496.67" stroke="#a00000" stroke-width="2.0" stroke-linecap="butt"/>
<line x1="165.00" y1="471.49" x2="165.00" y2="465.34" stroke="#7b00a8" stroke-width="2.0" stroke-linecap="butt"/>
<line x1="159.00" y1="465.34" x2="171.00" y2="465.34" stroke="#7b00a8" stroke-width="2.0" stroke-linecap="butt"/>
<line x1="159.00" y1="471.49" x2="171.00" y2="471.49" stroke="#7b00a8" stroke-width="2.0" stroke-linecap="butt"/>
<line x1="47.00" y1="430.30" x2="47.00" y2="572.00" stroke="#000" stroke-width="1.8" stroke-linecap="butt"/>
<line x1="46.10" y1="571.10" x2="187.60" y2="571.10" stroke="#000" stroke-width="1.8" stroke-linecap="butt"/>
<line x1="40.50" y1="571.10" x2="47.00" y2="571.10" stroke="#000" stroke-width="1.6" stroke-linecap="butt"/>
<text x="37.00" y="574.45" font-size="9.6" text-anchor="end" fill="#231815" font-family='"Liberation Sans", sans-serif'>0</text>
<line x1="40.50" y1="543.12" x2="47.00" y2="543.12" stroke="#000" stroke-width="1.6" stroke-linecap="butt"/>
<text x="37.00" y="546.47" font-size="9.6" text-anchor="end" fill="#231815" font-family='"Liberation Sans", sans-serif'>500</text>
<line x1="40.50" y1="515.14" x2="47.00" y2="515.14" stroke="#000" stroke-width="1.6" stroke-linecap="butt"/>
<text x="37.00" y="518.49" font-size="9.6" text-anchor="end" fill="#231815" font-family='"Liberation Sans", sans-serif'>1000</text>
<line x1="40.50" y1="487.16" x2="47.00" y2="487.16" stroke="#000" stroke-width="1.6" stroke-linecap="butt"/>
<text x="37.00" y="490.51" font-size="9.6" text-anchor="end" fill="#231815" font-family='"Liberation Sans", sans-serif'>1500</text>
<line x1="40.50" y1="459.18" x2="47.00" y2="459.18" stroke="#000" stroke-width="1.6" stroke-linecap="butt"/>
<text x="37.00" y="462.53" font-size="9.6" text-anchor="end" fill="#231815" font-family='"Liberation Sans", sans-serif'>2000</text>
<line x1="40.50" y1="431.20" x2="47.00" y2="431.20" stroke="#000" stroke-width="1.6" stroke-linecap="butt"/>
<text x="37.00" y="434.55" font-size="9.6" text-anchor="end" fill="#231815" font-family='"Liberation Sans", sans-serif'>2500</text>
<line x1="68.50" y1="571.10" x2="68.50" y2="577.60" stroke="#000" stroke-width="1.6" stroke-linecap="butt"/>
<line x1="100.60" y1="571.10" x2="100.60" y2="577.60" stroke="#000" stroke-width="1.6" stroke-linecap="butt"/>
<line x1="132.80" y1="571.10" x2="132.80" y2="577.60" stroke="#000" stroke-width="1.6" stroke-linecap="butt"/>
<line x1="165.00" y1="571.10" x2="165.00" y2="577.60" stroke="#000" stroke-width="1.6" stroke-linecap="butt"/>
<text x="90.80" y="403.30" font-size="9.3" fill="#231815" font-family='"Liberation Sans", sans-serif' textLength="64.00" lengthAdjust="spacingAndGlyphs" >ATPase activity</text>
<text x="0" y="0" font-size="9.3" fill="#231815" font-family='"Liberation Sans", sans-serif' textLength="87.90" lengthAdjust="spacingAndGlyphs" transform="translate(9.65,542.30) rotate(-90)">ATPase activity (U/g)</text>
<polyline points="68.60,437.30 68.60,425.70 132.80,425.70 132.80,456.30" fill="none" stroke="#000" stroke-width="1.8" stroke-linejoin="miter"/>
<text x="100.84" y="427.21" font-size="16" fill="#231815" stroke="#231815" stroke-width="0.45" font-family='"Liberation Sans", sans-serif' letter-spacing="1.4">***</text>
<polyline points="138.70,456.30 138.70,425.70 165.00,425.70 165.00,435.90" fill="none" stroke="#000" stroke-width="1.8" stroke-linejoin="miter"/>
<text x="150.05" y="423.70" font-size="14" fill="#231815" stroke="#231815" stroke-width="0.25" font-family='"Liberation Sans", sans-serif'>#</text>
<path d="M235.40,571.10 V468.69 H254.80 V571.10" fill="none" stroke="#a0a0a4" stroke-width="2.35"/>
<path d="M267.60,571.10 V470.93 H287.00 V571.10" fill="none" stroke="#0000c8" stroke-width="2.35"/>
<path d="M299.70,571.10 V488.84 H319.10 V571.10" fill="none" stroke="#a00000" stroke-width="2.35"/>
<path d="M331.90,571.10 V464.22 H351.30 V571.10" fill="none" stroke="#7b00a8" stroke-width="2.35"/>
<circle cx="242.10" cy="460.30" r="2.9" fill="#a0a0a4"/>
<circle cx="248.10" cy="460.30" r="2.9" fill="#a0a0a4"/>
<circle cx="238.10" cy="472.05" r="2.9" fill="#a0a0a4"/>
<circle cx="245.10" cy="470.93" r="2.9" fill="#a0a0a4"/>
<circle cx="252.10" cy="470.93" r="2.9" fill="#a0a0a4"/>
<circle cx="245.10" cy="469.25" r="2.9" fill="#a0a0a4"/>
<circle cx="277.30" cy="451.91" r="2.9" fill="#0000c8"/>
<circle cx="277.30" cy="459.74" r="2.9" fill="#0000c8"/>
<circle cx="277.30" cy="469.25" r="2.9" fill="#0000c8"/>
<circle cx="277.30" cy="473.17" r="2.9" fill="#0000c8"/>
<circle cx="269.30" cy="486.04" r="2.9" fill="#0000c8"/>
<circle cx="285.30" cy="482.12" r="2.9" fill="#0000c8"/>
<circle cx="309.40" cy="480.44" r="2.9" fill="#a00000"/>
<circle cx="301.40" cy="487.16" r="2.9" fill="#a00000"/>
<circle cx="317.40" cy="487.16" r="2.9" fill="#a00000"/>
<circle cx="301.40" cy="497.23" r="2.9" fill="#a00000"/>
<circle cx="317.40" cy="496.11" r="2.9" fill="#a00000"/>
<circle cx="309.40" cy="489.96" r="2.9" fill="#a00000"/>
<circle cx="341.60" cy="451.91" r="2.9" fill="#7b00a8"/>
<circle cx="337.60" cy="461.42" r="2.9" fill="#7b00a8"/>
<circle cx="349.60" cy="461.42" r="2.9" fill="#7b00a8"/>
<circle cx="341.60" cy="463.66" r="2.9" fill="#7b00a8"/>
<circle cx="333.60" cy="470.37" r="2.9" fill="#7b00a8"/>
<circle cx="349.60" cy="469.81" r="2.9" fill="#7b00a8"/>
<line x1="245.10" y1="469.81" x2="245.10" y2="464.78" stroke="#a0a0a4" stroke-width="2.0" stroke-linecap="butt"/>
<line x1="239.10" y1="464.78" x2="251.10" y2="464.78" stroke="#a0a0a4" stroke-width="2.0" stroke-linecap="butt"/>
<line x1="239.10" y1="469.81" x2="251.10" y2="469.81" stroke="#a0a0a4" stroke-width="2.0" stroke-linecap="butt"/>
<line x1="277.30" y1="475.41" x2="277.30" y2="464.22" stroke="#0000c8" stroke-width="2.0" stroke-linecap="butt"/>
<line x1="271.30" y1="464.22" x2="283.30" y2="464.22" stroke="#0000c8" stroke-width="2.0" stroke-linecap="butt"/>
<line x1="271.30" y1="475.41" x2="283.30" y2="475.41" stroke="#0000c8" stroke-width="2.0" stroke-linecap="butt"/>
<line x1="309.40" y1="489.96" x2="309.40" y2="486.04" stroke="#a00000" stroke-width="2.0" stroke-linecap="butt"/>
<line x1="303.40" y1="486.04" x2="315.40" y2="486.04" stroke="#a00000" stroke-width="2.0" stroke-linecap="butt"/>
<line x1="303.40" y1="489.96" x2="315.40" y2="489.96" stroke="#a00000" stroke-width="2.0" stroke-linecap="butt"/>
<line x1="341.60" y1="463.66" x2="341.60" y2="459.18" stroke="#7b00a8" stroke-width="2.0" stroke-linecap="butt"/>
<line x1="335.60" y1="459.18" x2="347.60" y2="459.18" stroke="#7b00a8" stroke-width="2.0" stroke-linecap="butt"/>
<line x1="335.60" y1="463.66" x2="347.60" y2="463.66" stroke="#7b00a8" stroke-width="2.0" stroke-linecap="butt"/>
<line x1="224.00" y1="430.30" x2="224.00" y2="572.00" stroke="#000" stroke-width="1.8" stroke-linecap="butt"/>
<line x1="223.10" y1="571.10" x2="364.00" y2="571.10" stroke="#000" stroke-width="1.8" stroke-linecap="butt"/>
<line x1="217.50" y1="571.10" x2="224.00" y2="571.10" stroke="#000" stroke-width="1.6" stroke-linecap="butt"/>
<text x="215.10" y="574.45" font-size="9.6" text-anchor="end" fill="#231815" font-family='"Liberation Sans", sans-serif'>0</text>
<line x1="217.50" y1="543.12" x2="224.00" y2="543.12" stroke="#000" stroke-width="1.6" stroke-linecap="butt"/>
<text x="215.10" y="546.47" font-size="9.6" text-anchor="end" fill="#231815" font-family='"Liberation Sans", sans-serif'>5</text>
<line x1="217.50" y1="515.14" x2="224.00" y2="515.14" stroke="#000" stroke-width="1.6" stroke-linecap="butt"/>
<text x="215.10" y="518.49" font-size="9.6" text-anchor="end" fill="#231815" font-family='"Liberation Sans", sans-serif'>10</text>
<line x1="217.50" y1="487.16" x2="224.00" y2="487.16" stroke="#000" stroke-width="1.6" stroke-linecap="butt"/>
<text x="215.10" y="490.51" font-size="9.6" text-anchor="end" fill="#231815" font-family='"Liberation Sans", sans-serif'>15</text>
<line x1="217.50" y1="459.18" x2="224.00" y2="459.18" stroke="#000" stroke-width="1.6" stroke-linecap="butt"/>
<text x="215.10" y="462.53" font-size="9.6" text-anchor="end" fill="#231815" font-family='"Liberation Sans", sans-serif'>20</text>
<line x1="217.50" y1="431.20" x2="224.00" y2="431.20" stroke="#000" stroke-width="1.6" stroke-linecap="butt"/>
<text x="215.10" y="434.55" font-size="9.6" text-anchor="end" fill="#231815" font-family='"Liberation Sans", sans-serif'>25</text>
<line x1="245.10" y1="571.10" x2="245.10" y2="577.60" stroke="#000" stroke-width="1.6" stroke-linecap="butt"/>
<line x1="277.30" y1="571.10" x2="277.30" y2="577.60" stroke="#000" stroke-width="1.6" stroke-linecap="butt"/>
<line x1="309.40" y1="571.10" x2="309.40" y2="577.60" stroke="#000" stroke-width="1.6" stroke-linecap="butt"/>
<line x1="341.60" y1="571.10" x2="341.60" y2="577.60" stroke="#000" stroke-width="1.6" stroke-linecap="butt"/>
<text x="244.20" y="403.40" font-size="9.3" fill="#231815" font-family='"Liberation Sans", sans-serif' textLength="98.10" lengthAdjust="spacingAndGlyphs" >Citrate synthase activity</text>
<text x="0" y="0" font-size="9.3" fill="#231815" font-family='"Liberation Sans", sans-serif' textLength="83.90" lengthAdjust="spacingAndGlyphs" transform="translate(200.60,550.30) rotate(-90)">Enzyme activity (U/g)</text>
<polyline points="244.90,437.30 244.90,425.70 309.10,425.70 309.10,465.00" fill="none" stroke="#000" stroke-width="1.8" stroke-linejoin="miter"/>
<text x="277.54" y="426.71" font-size="16" fill="#231815" stroke="#231815" stroke-width="0.45" font-family='"Liberation Sans", sans-serif' letter-spacing="1.4">**</text>
<polyline points="317.00,465.00 317.00,425.70 341.80,425.70 341.80,435.90" fill="none" stroke="#000" stroke-width="1.8" stroke-linejoin="miter"/>
<text x="324.65" y="423.80" font-size="14" fill="#231815" stroke="#231815" stroke-width="0.25" font-family='"Liberation Sans", sans-serif'>##</text>
<path d="M419.40,571.10 V468.51 H438.80 V571.10" fill="none" stroke="#a0a0a4" stroke-width="2.35"/>
<path d="M451.60,571.10 V469.91 H471.00 V571.10" fill="none" stroke="#0000c8" stroke-width="2.35"/>
<path d="M483.60,571.10 V497.89 H503.00 V571.10" fill="none" stroke="#a00000" stroke-width="2.35"/>
<path d="M515.80,571.10 V480.63 H535.20 V571.10" fill="none" stroke="#7b00a8" stroke-width="2.35"/>
<circle cx="421.20" cy="461.05" r="2.9" fill="#a0a0a4"/>
<circle cx="436.90" cy="462.44" r="2.9" fill="#a0a0a4"/>
<circle cx="429.10" cy="465.71" r="2.9" fill="#a0a0a4"/>
<circle cx="421.70" cy="475.04" r="2.9" fill="#a0a0a4"/>
<circle cx="429.10" cy="470.37" r="2.9" fill="#a0a0a4"/>
<circle cx="435.10" cy="470.37" r="2.9" fill="#a0a0a4"/>
<circle cx="463.90" cy="458.25" r="2.9" fill="#0000c8"/>
<circle cx="458.20" cy="464.78" r="2.9" fill="#0000c8"/>
<circle cx="452.90" cy="475.04" r="2.9" fill="#0000c8"/>
<circle cx="463.30" cy="474.10" r="2.9" fill="#0000c8"/>
<circle cx="469.30" cy="472.24" r="2.9" fill="#0000c8"/>
<circle cx="457.30" cy="470.37" r="2.9" fill="#0000c8"/>
<circle cx="496.00" cy="492.20" r="2.9" fill="#a00000"/>
<circle cx="490.30" cy="495.55" r="2.9" fill="#a00000"/>
<circle cx="501.10" cy="495.55" r="2.9" fill="#a00000"/>
<circle cx="484.50" cy="498.82" r="2.9" fill="#a00000"/>
<circle cx="490.30" cy="505.07" r="2.9" fill="#a00000"/>
<circle cx="496.30" cy="498.35" r="2.9" fill="#a00000"/>
<circle cx="522.70" cy="476.90" r="2.9" fill="#7b00a8"/>
<circle cx="528.40" cy="477.83" r="2.9" fill="#7b00a8"/>
<circle cx="517.40" cy="482.03" r="2.9" fill="#7b00a8"/>
<circle cx="534.10" cy="481.56" r="2.9" fill="#7b00a8"/>
<circle cx="525.50" cy="483.43" r="2.9" fill="#7b00a8"/>
<circle cx="522.70" cy="489.96" r="2.9" fill="#7b00a8"/>
<line x1="429.10" y1="469.44" x2="429.10" y2="464.78" stroke="#a0a0a4" stroke-width="2.0" stroke-linecap="butt"/>
<line x1="423.10" y1="464.78" x2="435.10" y2="464.78" stroke="#a0a0a4" stroke-width="2.0" stroke-linecap="butt"/>
<line x1="423.10" y1="469.44" x2="435.10" y2="469.44" stroke="#a0a0a4" stroke-width="2.0" stroke-linecap="butt"/>
<line x1="461.30" y1="471.30" x2="461.30" y2="464.78" stroke="#0000c8" stroke-width="2.0" stroke-linecap="butt"/>
<line x1="455.30" y1="464.78" x2="467.30" y2="464.78" stroke="#0000c8" stroke-width="2.0" stroke-linecap="butt"/>
<line x1="455.30" y1="471.30" x2="467.30" y2="471.30" stroke="#0000c8" stroke-width="2.0" stroke-linecap="butt"/>
<line x1="493.30" y1="499.28" x2="493.30" y2="495.55" stroke="#a00000" stroke-width="2.0" stroke-linecap="butt"/>
<line x1="487.30" y1="495.55" x2="499.30" y2="495.55" stroke="#a00000" stroke-width="2.0" stroke-linecap="butt"/>
<line x1="487.30" y1="499.28" x2="499.30" y2="499.28" stroke="#a00000" stroke-width="2.0" stroke-linecap="butt"/>
<line x1="525.50" y1="484.36" x2="525.50" y2="478.77" stroke="#7b00a8" stroke-width="2.0" stroke-linecap="butt"/>
<line x1="519.50" y1="478.77" x2="531.50" y2="478.77" stroke="#7b00a8" stroke-width="2.0" stroke-linecap="butt"/>
<line x1="519.50" y1="484.36" x2="531.50" y2="484.36" stroke="#7b00a8" stroke-width="2.0" stroke-linecap="butt"/>
<line x1="407.80" y1="430.30" x2="407.80" y2="572.00" stroke="#000" stroke-width="1.8" stroke-linecap="butt"/>
<line x1="406.90" y1="571.10" x2="548.30" y2="571.10" stroke="#000" stroke-width="1.8" stroke-linecap="butt"/>
<line x1="401.30" y1="571.10" x2="407.80" y2="571.10" stroke="#000" stroke-width="1.6" stroke-linecap="butt"/>
<text x="399.20" y="574.45" font-size="9.6" text-anchor="end" fill="#231815" font-family='"Liberation Sans", sans-serif'>0</text>
<line x1="401.30" y1="524.47" x2="407.80" y2="524.47" stroke="#000" stroke-width="1.6" stroke-linecap="butt"/>
<text x="399.20" y="527.82" font-size="9.6" text-anchor="end" fill="#231815" font-family='"Liberation Sans", sans-serif'>5</text>
<line x1="401.30" y1="477.83" x2="407.80" y2="477.83" stroke="#000" stroke-width="1.6" stroke-linecap="butt"/>
<text x="399.20" y="481.18" font-size="9.6" text-anchor="end" fill="#231815" font-family='"Liberation Sans", sans-serif'>10</text>
<line x1="401.30" y1="431.20" x2="407.80" y2="431.20" stroke="#000" stroke-width="1.6" stroke-linecap="butt"/>
<text x="399.20" y="434.55" font-size="9.6" text-anchor="end" fill="#231815" font-family='"Liberation Sans", sans-serif'>15</text>
<line x1="429.10" y1="571.10" x2="429.10" y2="577.60" stroke="#000" stroke-width="1.6" stroke-linecap="butt"/>
<line x1="461.30" y1="571.10" x2="461.30" y2="577.60" stroke="#000" stroke-width="1.6" stroke-linecap="butt"/>
<line x1="493.30" y1="571.10" x2="493.30" y2="577.60" stroke="#000" stroke-width="1.6" stroke-linecap="butt"/>
<line x1="525.50" y1="571.10" x2="525.50" y2="577.60" stroke="#000" stroke-width="1.6" stroke-linecap="butt"/>
<text x="438.50" y="403.00" font-size="9.3" fill="#231815" font-family='"Liberation Sans", sans-serif' textLength="63.60" lengthAdjust="spacingAndGlyphs" >ATP production</text>
<text x="0" y="0" font-size="9.3" fill="#231815" font-family='"Liberation Sans", sans-serif' textLength="95.20" lengthAdjust="spacingAndGlyphs" transform="translate(387.40,549.50) rotate(-90)">ATP production (nmol/g)</text>
<polyline points="429.00,437.30 429.00,425.70 493.50,425.70 493.50,465.00" fill="none" stroke="#000" stroke-width="1.8" stroke-linejoin="miter"/>
<text x="461.94" y="427.21" font-size="16" fill="#231815" stroke="#231815" stroke-width="0.45" font-family='"Liberation Sans", sans-serif' letter-spacing="1.4">***</text>
<polyline points="500.80,465.00 500.80,425.70 525.60,425.70 525.60,435.90" fill="none" stroke="#000" stroke-width="1.8" stroke-linejoin="miter"/>
<text x="510.75" y="423.70" font-size="14" fill="#231815" stroke="#231815" stroke-width="0.25" font-family='"Liberation Sans", sans-serif'>##</text>
<path d="M54.90,770.40 V714.40 H74.30 V770.40" fill="none" stroke="#a0a0a4" stroke-width="2.35"/>
<path d="M87.00,770.40 V721.68 H106.40 V770.40" fill="none" stroke="#0000c8" stroke-width="2.35"/>
<path d="M119.20,770.40 V671.56 H138.60 V770.40" fill="none" stroke="#a00000" stroke-width="2.35"/>
<path d="M151.30,770.40 V702.08 H170.70 V770.40" fill="none" stroke="#7b00a8" stroke-width="2.35"/>
<circle cx="56.60" cy="714.40" r="2.9" fill="#a0a0a4"/>
<circle cx="59.80" cy="714.40" r="2.9" fill="#a0a0a4"/>
<circle cx="63.00" cy="714.40" r="2.9" fill="#a0a0a4"/>
<circle cx="66.20" cy="714.40" r="2.9" fill="#a0a0a4"/>
<circle cx="69.40" cy="714.40" r="2.9" fill="#a0a0a4"/>
<circle cx="72.60" cy="714.40" r="2.9" fill="#a0a0a4"/>
<circle cx="96.70" cy="697.60" r="2.9" fill="#0000c8"/>
<circle cx="96.70" cy="710.48" r="2.9" fill="#0000c8"/>
<circle cx="90.70" cy="725.60" r="2.9" fill="#0000c8"/>
<circle cx="96.70" cy="728.40" r="2.9" fill="#0000c8"/>
<circle cx="96.70" cy="731.20" r="2.9" fill="#0000c8"/>
<circle cx="96.70" cy="742.40" r="2.9" fill="#0000c8"/>
<circle cx="120.90" cy="652.80" r="2.9" fill="#a00000"/>
<circle cx="128.90" cy="654.48" r="2.9" fill="#a00000"/>
<circle cx="120.90" cy="670.72" r="2.9" fill="#a00000"/>
<circle cx="136.90" cy="670.72" r="2.9" fill="#a00000"/>
<circle cx="128.90" cy="675.20" r="2.9" fill="#a00000"/>
<circle cx="128.90" cy="703.76" r="2.9" fill="#a00000"/>
<circle cx="161.00" cy="665.12" r="2.9" fill="#7b00a8"/>
<circle cx="161.00" cy="697.60" r="2.9" fill="#7b00a8"/>
<circle cx="154.00" cy="706.00" r="2.9" fill="#7b00a8"/>
<circle cx="161.00" cy="706.00" r="2.9" fill="#7b00a8"/>
<circle cx="161.00" cy="717.20" r="2.9" fill="#7b00a8"/>
<circle cx="161.00" cy="727.28" r="2.9" fill="#7b00a8"/>
<line x1="96.70" y1="727.84" x2="96.70" y2="715.52" stroke="#0000c8" stroke-width="2.0" stroke-linecap="butt"/>
<line x1="90.70" y1="715.52" x2="102.70" y2="715.52" stroke="#0000c8" stroke-width="2.0" stroke-linecap="butt"/>
<line x1="90.70" y1="727.84" x2="102.70" y2="727.84" stroke="#0000c8" stroke-width="2.0" stroke-linecap="butt"/>
<line x1="128.90" y1="679.12" x2="128.90" y2="663.44" stroke="#a00000" stroke-width="2.0" stroke-linecap="butt"/>
<line x1="122.90" y1="663.44" x2="134.90" y2="663.44" stroke="#a00000" stroke-width="2.0" stroke-linecap="butt"/>
<line x1="122.90" y1="679.12" x2="134.90" y2="679.12" stroke="#a00000" stroke-width="2.0" stroke-linecap="butt"/>
<line x1="161.00" y1="710.48" x2="161.00" y2="693.68" stroke="#7b00a8" stroke-width="2.0" stroke-linecap="butt"/>
<line x1="155.00" y1="693.68" x2="167.00" y2="693.68" stroke="#7b00a8" stroke-width="2.0" stroke-linecap="butt"/>
<line x1="155.00" y1="710.48" x2="167.00" y2="710.48" stroke="#7b00a8" stroke-width="2.0" stroke-linecap="butt"/>
<line x1="43.30" y1="629.50" x2="43.30" y2="771.30" stroke="#000" stroke-width="1.8" stroke-linecap="butt"/>
<line x1="42.40" y1="770.40" x2="183.40" y2="770.40" stroke="#000" stroke-width="1.8" stroke-linecap="butt"/>
<line x1="36.80" y1="770.40" x2="43.30" y2="770.40" stroke="#000" stroke-width="1.6" stroke-linecap="butt"/>
<text x="35.10" y="773.75" font-size="9.6" text-anchor="end" fill="#231815" font-family='"Liberation Sans", sans-serif'>0.0</text>
<line x1="36.80" y1="742.40" x2="43.30" y2="742.40" stroke="#000" stroke-width="1.6" stroke-linecap="butt"/>
<text x="35.10" y="745.75" font-size="9.6" text-anchor="end" fill="#231815" font-family='"Liberation Sans", sans-serif'>0.5</text>
<line x1="36.80" y1="714.40" x2="43.30" y2="714.40" stroke="#000" stroke-width="1.6" stroke-linecap="butt"/>
<text x="35.10" y="717.75" font-size="9.6" text-anchor="end" fill="#231815" font-family='"Liberation Sans", sans-serif'>1.0</text>
<line x1="36.80" y1="686.40" x2="43.30" y2="686.40" stroke="#000" stroke-width="1.6" stroke-linecap="butt"/>
<text x="35.10" y="689.75" font-size="9.6" text-anchor="end" fill="#231815" font-family='"Liberation Sans", sans-serif'>1.5</text>
<line x1="36.80" y1="658.40" x2="43.30" y2="658.40" stroke="#000" stroke-width="1.6" stroke-linecap="butt"/>
<text x="35.10" y="661.75" font-size="9.6" text-anchor="end" fill="#231815" font-family='"Liberation Sans", sans-serif'>2.0</text>
<line x1="36.80" y1="630.40" x2="43.30" y2="630.40" stroke="#000" stroke-width="1.6" stroke-linecap="butt"/>
<text x="35.10" y="633.75" font-size="9.6" text-anchor="end" fill="#231815" font-family='"Liberation Sans", sans-serif'>2.5</text>
<line x1="64.60" y1="770.40" x2="64.60" y2="778.40" stroke="#000" stroke-width="1.6" stroke-linecap="butt"/>
<line x1="96.70" y1="770.40" x2="96.70" y2="778.40" stroke="#000" stroke-width="1.6" stroke-linecap="butt"/>
<line x1="128.90" y1="770.40" x2="128.90" y2="778.40" stroke="#000" stroke-width="1.6" stroke-linecap="butt"/>
<line x1="161.00" y1="770.40" x2="161.00" y2="778.40" stroke="#000" stroke-width="1.6" stroke-linecap="butt"/>
<text x="91.10" y="607.40" font-size="9.3" fill="#231815" font-family='"Liberation Sans", sans-serif' textLength="31.10" lengthAdjust="spacingAndGlyphs" >ACBD3</text>
<text x="0" y="0" font-size="9.3" fill="#231815" font-family='"Liberation Sans", sans-serif' textLength="84.30" lengthAdjust="spacingAndGlyphs" transform="translate(11.60,741.70) rotate(-90)">Bands densitometry</text>
<polyline points="65.20,670.40 65.20,626.90 128.20,626.90 128.20,634.40" fill="none" stroke="#000" stroke-width="1.8" stroke-linejoin="miter"/>
<text x="90.04" y="627.31" font-size="16" fill="#231815" stroke="#231815" stroke-width="0.45" font-family='"Liberation Sans", sans-serif' letter-spacing="1.4">***</text>
<polyline points="133.10,634.40 133.10,626.90 160.30,626.90 160.30,648.80" fill="none" stroke="#000" stroke-width="1.8" stroke-linejoin="miter"/>
<text x="142.45" y="623.20" font-size="14" fill="#231815" stroke="#231815" stroke-width="0.25" font-family='"Liberation Sans", sans-serif'>#</text>
<path d="M230.90,768.60 V712.76 H250.30 V768.60" fill="none" stroke="#a0a0a4" stroke-width="2.35"/>
<path d="M263.10,768.60 V719.74 H282.50 V768.60" fill="none" stroke="#0000c8" stroke-width="2.35"/>
<path d="M295.20,768.60 V680.37 H314.60 V768.60" fill="none" stroke="#a00000" stroke-width="2.35"/>
<path d="M327.40,768.60 V725.60 H346.80 V768.60" fill="none" stroke="#7b00a8" stroke-width="2.35"/>
<circle cx="232.60" cy="712.76" r="2.9" fill="#a0a0a4"/>
<circle cx="235.80" cy="712.76" r="2.9" fill="#a0a0a4"/>
<circle cx="239.00" cy="712.76" r="2.9" fill="#a0a0a4"/>
<circle cx="242.20" cy="712.76" r="2.9" fill="#a0a0a4"/>
<circle cx="245.40" cy="712.76" r="2.9" fill="#a0a0a4"/>
<circle cx="248.60" cy="712.76" r="2.9" fill="#a0a0a4"/>
<circle cx="272.80" cy="701.03" r="2.9" fill="#0000c8"/>
<circle cx="264.80" cy="717.39" r="2.9" fill="#0000c8"/>
<circle cx="280.80" cy="720.58" r="2.9" fill="#0000c8"/>
<circle cx="272.80" cy="724.49" r="2.9" fill="#0000c8"/>
<circle cx="264.80" cy="732.58" r="2.9" fill="#0000c8"/>
<circle cx="280.80" cy="729.23" r="2.9" fill="#0000c8"/>
<circle cx="304.90" cy="641.84" r="2.9" fill="#a00000"/>
<circle cx="296.90" cy="668.09" r="2.9" fill="#a00000"/>
<circle cx="304.90" cy="668.09" r="2.9" fill="#a00000"/>
<circle cx="304.90" cy="690.42" r="2.9" fill="#a00000"/>
<circle cx="304.90" cy="699.92" r="2.9" fill="#a00000"/>
<circle cx="304.90" cy="709.41" r="2.9" fill="#a00000"/>
<circle cx="345.10" cy="716.11" r="2.9" fill="#7b00a8"/>
<circle cx="329.10" cy="720.58" r="2.9" fill="#7b00a8"/>
<circle cx="337.10" cy="721.14" r="2.9" fill="#7b00a8"/>
<circle cx="345.10" cy="726.72" r="2.9" fill="#7b00a8"/>
<circle cx="329.10" cy="737.89" r="2.9" fill="#7b00a8"/>
<circle cx="345.10" cy="736.21" r="2.9" fill="#7b00a8"/>
<line x1="272.80" y1="725.04" x2="272.80" y2="716.11" stroke="#0000c8" stroke-width="2.0" stroke-linecap="butt"/>
<line x1="266.80" y1="716.11" x2="278.80" y2="716.11" stroke="#0000c8" stroke-width="2.0" stroke-linecap="butt"/>
<line x1="266.80" y1="725.04" x2="278.80" y2="725.04" stroke="#0000c8" stroke-width="2.0" stroke-linecap="butt"/>
<line x1="304.90" y1="690.42" x2="304.90" y2="668.65" stroke="#a00000" stroke-width="2.0" stroke-linecap="butt"/>
<line x1="298.90" y1="668.65" x2="310.90" y2="668.65" stroke="#a00000" stroke-width="2.0" stroke-linecap="butt"/>
<line x1="298.90" y1="690.42" x2="310.90" y2="690.42" stroke="#a00000" stroke-width="2.0" stroke-linecap="butt"/>
<line x1="337.10" y1="729.51" x2="337.10" y2="720.58" stroke="#7b00a8" stroke-width="2.0" stroke-linecap="butt"/>
<line x1="331.10" y1="720.58" x2="343.10" y2="720.58" stroke="#7b00a8" stroke-width="2.0" stroke-linecap="butt"/>
<line x1="331.10" y1="729.51" x2="343.10" y2="729.51" stroke="#7b00a8" stroke-width="2.0" stroke-linecap="butt"/>
<line x1="218.90" y1="628.10" x2="218.90" y2="769.50" stroke="#000" stroke-width="1.8" stroke-linecap="butt"/>
<line x1="218.00" y1="768.60" x2="359.50" y2="768.60" stroke="#000" stroke-width="1.8" stroke-linecap="butt"/>
<line x1="212.40" y1="768.60" x2="218.90" y2="768.60" stroke="#000" stroke-width="1.6" stroke-linecap="butt"/>
<text x="210.00" y="771.95" font-size="9.6" text-anchor="end" fill="#231815" font-family='"Liberation Sans", sans-serif'>0.0</text>
<line x1="212.40" y1="740.68" x2="218.90" y2="740.68" stroke="#000" stroke-width="1.6" stroke-linecap="butt"/>
<text x="210.00" y="744.03" font-size="9.6" text-anchor="end" fill="#231815" font-family='"Liberation Sans", sans-serif'>0.5</text>
<line x1="212.40" y1="712.76" x2="218.90" y2="712.76" stroke="#000" stroke-width="1.6" stroke-linecap="butt"/>
<text x="210.00" y="716.11" font-size="9.6" text-anchor="end" fill="#231815" font-family='"Liberation Sans", sans-serif'>1.0</text>
<line x1="212.40" y1="684.84" x2="218.90" y2="684.84" stroke="#000" stroke-width="1.6" stroke-linecap="butt"/>
<text x="210.00" y="688.19" font-size="9.6" text-anchor="end" fill="#231815" font-family='"Liberation Sans", sans-serif'>1.5</text>
<line x1="212.40" y1="656.92" x2="218.90" y2="656.92" stroke="#000" stroke-width="1.6" stroke-linecap="butt"/>
<text x="210.00" y="660.27" font-size="9.6" text-anchor="end" fill="#231815" font-family='"Liberation Sans", sans-serif'>2.0</text>
<line x1="212.40" y1="629.00" x2="218.90" y2="629.00" stroke="#000" stroke-width="1.6" stroke-linecap="butt"/>
<text x="210.00" y="632.35" font-size="9.6" text-anchor="end" fill="#231815" font-family='"Liberation Sans", sans-serif'>2.5</text>
<line x1="240.60" y1="768.60" x2="240.60" y2="776.60" stroke="#000" stroke-width="1.6" stroke-linecap="butt"/>
<line x1="272.80" y1="768.60" x2="272.80" y2="776.60" stroke="#000" stroke-width="1.6" stroke-linecap="butt"/>
<line x1="304.90" y1="768.60" x2="304.90" y2="776.60" stroke="#000" stroke-width="1.6" stroke-linecap="butt"/>
<line x1="337.10" y1="768.60" x2="337.10" y2="776.60" stroke="#000" stroke-width="1.6" stroke-linecap="butt"/>
<text x="282.60" y="607.60" font-size="9.3" fill="#231815" font-family='"Liberation Sans", sans-serif' textLength="18.50" lengthAdjust="spacingAndGlyphs" >PKA</text>
<polyline points="240.50,670.40 240.50,626.90 302.60,626.90 302.60,634.40" fill="none" stroke="#000" stroke-width="1.8" stroke-linejoin="miter"/>
<text x="267.34" y="627.61" font-size="16" fill="#231815" stroke="#231815" stroke-width="0.45" font-family='"Liberation Sans", sans-serif' letter-spacing="1.4">**</text>
<polyline points="309.00,634.40 309.00,626.90 337.30,626.90 337.30,648.80" fill="none" stroke="#000" stroke-width="1.8" stroke-linejoin="miter"/>
<text x="312.75" y="622.90" font-size="14" fill="#231815" stroke="#231815" stroke-width="0.25" font-family='"Liberation Sans", sans-serif'>###</text>
<path d="M405.90,768.60 V712.76 H425.30 V768.60" fill="none" stroke="#a0a0a4" stroke-width="2.35"/>
<path d="M438.20,768.60 V740.68 H457.60 V768.60" fill="none" stroke="#0000c8" stroke-width="2.35"/>
<path d="M470.20,768.60 V686.52 H489.60 V768.60" fill="none" stroke="#a00000" stroke-width="2.35"/>
<path d="M502.50,768.60 V708.85 H521.90 V768.60" fill="none" stroke="#7b00a8" stroke-width="2.35"/>
<circle cx="407.60" cy="712.76" r="2.9" fill="#a0a0a4"/>
<circle cx="410.80" cy="712.76" r="2.9" fill="#a0a0a4"/>
<circle cx="414.00" cy="712.76" r="2.9" fill="#a0a0a4"/>
<circle cx="417.20" cy="712.76" r="2.9" fill="#a0a0a4"/>
<circle cx="420.40" cy="712.76" r="2.9" fill="#a0a0a4"/>
<circle cx="423.60" cy="712.76" r="2.9" fill="#a0a0a4"/>
<circle cx="447.90" cy="731.75" r="2.9" fill="#0000c8"/>
<circle cx="439.90" cy="737.33" r="2.9" fill="#0000c8"/>
<circle cx="455.90" cy="737.33" r="2.9" fill="#0000c8"/>
<circle cx="447.90" cy="740.68" r="2.9" fill="#0000c8"/>
<circle cx="443.90" cy="743.47" r="2.9" fill="#0000c8"/>
<circle cx="447.90" cy="755.76" r="2.9" fill="#0000c8"/>
<circle cx="479.90" cy="660.83" r="2.9" fill="#a00000"/>
<circle cx="471.90" cy="680.37" r="2.9" fill="#a00000"/>
<circle cx="479.90" cy="685.96" r="2.9" fill="#a00000"/>
<circle cx="471.90" cy="700.48" r="2.9" fill="#a00000"/>
<circle cx="487.90" cy="696.01" r="2.9" fill="#a00000"/>
<circle cx="479.90" cy="696.01" r="2.9" fill="#a00000"/>
<circle cx="512.20" cy="689.31" r="2.9" fill="#7b00a8"/>
<circle cx="504.20" cy="707.18" r="2.9" fill="#7b00a8"/>
<circle cx="520.20" cy="709.97" r="2.9" fill="#7b00a8"/>
<circle cx="512.20" cy="712.76" r="2.9" fill="#7b00a8"/>
<circle cx="512.20" cy="715.55" r="2.9" fill="#7b00a8"/>
<circle cx="512.20" cy="730.63" r="2.9" fill="#7b00a8"/>
<line x1="447.90" y1="744.59" x2="447.90" y2="737.33" stroke="#0000c8" stroke-width="2.0" stroke-linecap="butt"/>
<line x1="441.90" y1="737.33" x2="453.90" y2="737.33" stroke="#0000c8" stroke-width="2.0" stroke-linecap="butt"/>
<line x1="441.90" y1="744.59" x2="453.90" y2="744.59" stroke="#0000c8" stroke-width="2.0" stroke-linecap="butt"/>
<line x1="479.90" y1="692.66" x2="479.90" y2="680.37" stroke="#a00000" stroke-width="2.0" stroke-linecap="butt"/>
<line x1="473.90" y1="680.37" x2="485.90" y2="680.37" stroke="#a00000" stroke-width="2.0" stroke-linecap="butt"/>
<line x1="473.90" y1="692.66" x2="485.90" y2="692.66" stroke="#a00000" stroke-width="2.0" stroke-linecap="butt"/>
<line x1="512.20" y1="715.55" x2="512.20" y2="704.94" stroke="#7b00a8" stroke-width="2.0" stroke-linecap="butt"/>
<line x1="506.20" y1="704.94" x2="518.20" y2="704.94" stroke="#7b00a8" stroke-width="2.0" stroke-linecap="butt"/>
<line x1="506.20" y1="715.55" x2="518.20" y2="715.55" stroke="#7b00a8" stroke-width="2.0" stroke-linecap="butt"/>
<line x1="393.90" y1="628.10" x2="393.90" y2="769.50" stroke="#000" stroke-width="1.8" stroke-linecap="butt"/>
<line x1="393.00" y1="768.60" x2="534.50" y2="768.60" stroke="#000" stroke-width="1.8" stroke-linecap="butt"/>
<line x1="387.40" y1="768.60" x2="393.90" y2="768.60" stroke="#000" stroke-width="1.6" stroke-linecap="butt"/>
<text x="385.00" y="771.95" font-size="9.6" text-anchor="end" fill="#231815" font-family='"Liberation Sans", sans-serif'>0.0</text>
<line x1="387.40" y1="740.68" x2="393.90" y2="740.68" stroke="#000" stroke-width="1.6" stroke-linecap="butt"/>
<text x="385.00" y="744.03" font-size="9.6" text-anchor="end" fill="#231815" font-family='"Liberation Sans", sans-serif'>0.5</text>
<line x1="387.40" y1="712.76" x2="393.90" y2="712.76" stroke="#000" stroke-width="1.6" stroke-linecap="butt"/>
<text x="385.00" y="716.11" font-size="9.6" text-anchor="end" fill="#231815" font-family='"Liberation Sans", sans-serif'>1.0</text>
<line x1="387.40" y1="684.84" x2="393.90" y2="684.84" stroke="#000" stroke-width="1.6" stroke-linecap="butt"/>
<text x="385.00" y="688.19" font-size="9.6" text-anchor="end" fill="#231815" font-family='"Liberation Sans", sans-serif'>1.5</text>
<line x1="387.40" y1="656.92" x2="393.90" y2="656.92" stroke="#000" stroke-width="1.6" stroke-linecap="butt"/>
<text x="385.00" y="660.27" font-size="9.6" text-anchor="end" fill="#231815" font-family='"Liberation Sans", sans-serif'>2.0</text>
<line x1="387.40" y1="629.00" x2="393.90" y2="629.00" stroke="#000" stroke-width="1.6" stroke-linecap="butt"/>
<text x="385.00" y="632.35" font-size="9.6" text-anchor="end" fill="#231815" font-family='"Liberation Sans", sans-serif'>2.5</text>
<line x1="415.60" y1="768.60" x2="415.60" y2="776.60" stroke="#000" stroke-width="1.6" stroke-linecap="butt"/>
<line x1="447.90" y1="768.60" x2="447.90" y2="776.60" stroke="#000" stroke-width="1.6" stroke-linecap="butt"/>
<line x1="479.90" y1="768.60" x2="479.90" y2="776.60" stroke="#000" stroke-width="1.6" stroke-linecap="butt"/>
<line x1="512.20" y1="768.60" x2="512.20" y2="776.60" stroke="#000" stroke-width="1.6" stroke-linecap="butt"/>
<text x="464.60" y="607.30" font-size="9.3" fill="#231815" font-family='"Liberation Sans", sans-serif' textLength="26.40" lengthAdjust="spacingAndGlyphs" >CAMK</text>
<polyline points="416.80,670.40 416.80,626.90 478.40,626.90 478.40,634.40" fill="none" stroke="#000" stroke-width="1.8" stroke-linejoin="miter"/>
<text x="440.54" y="627.61" font-size="16" fill="#231815" stroke="#231815" stroke-width="0.45" font-family='"Liberation Sans", sans-serif' letter-spacing="1.4">**</text>
<polyline points="484.50,634.40 484.50,626.90 512.30,626.90 512.30,648.80" fill="none" stroke="#000" stroke-width="1.8" stroke-linejoin="miter"/>
<text x="490.05" y="622.90" font-size="14" fill="#231815" stroke="#231815" stroke-width="0.25" font-family='"Liberation Sans", sans-serif'>##</text>
<text x="11.17" y="10.70" font-size="17" text-anchor="start" fill="#231815" font-weight="bold" font-family='"Liberation Sans", sans-serif' >A</text>
<text x="11.26" y="211.70" font-size="17" text-anchor="start" fill="#231815" font-weight="bold" font-family='"Liberation Sans", sans-serif' >B</text>
<text x="11.50" y="412.80" font-size="17" text-anchor="start" fill="#231815" font-weight="bold" font-family='"Liberation Sans", sans-serif' >C</text>
<text x="11.26" y="607.70" font-size="17" text-anchor="start" fill="#231815" font-weight="bold" font-family='"Liberation Sans", sans-serif' >D</text>
<rect x="238.55" y="100.65" width="11.10" height="2.70" fill="#f0f0f0" stroke="#a8a8a8" stroke-width="1.1"/>
<rect x="252.55" y="100.65" width="11.60" height="2.70" fill="#dde6f4" stroke="#1e56b8" stroke-width="1.1"/>
<rect x="267.55" y="100.65" width="11.90" height="2.70" fill="#f6e2e2" stroke="#b0202a" stroke-width="1.1"/>
<rect x="282.45" y="100.65" width="11.90" height="2.70" fill="#efe2f4" stroke="#8a2cb0" stroke-width="1.1"/>
<defs><linearGradient id="g691" x1="0" y1="0" x2="0" y2="1"><stop offset="0" stop-color="#fafafa"/><stop offset="1" stop-color="#e2e2e2"/></linearGradient></defs>
<rect x="235.00" y="108.20" width="61.50" height="15.50" fill="url(#g691)"/>
<rect x="237.00" y="116.40" width="12.10" height="2.40" rx="2.6" ry="1.20" fill="#2a2a2a" filter="url(#bl)" transform="rotate(-4.00 243.05 117.60)"/>
<rect x="253.50" y="116.35" width="12.00" height="1.90" rx="2.6" ry="0.95" fill="#5a5a5a" filter="url(#bl)"/>
<ellipse cx="273.90" cy="117.80" rx="4.90" ry="3.00" fill="#000" filter="url(#bl)"/>
<rect x="282.90" y="116.00" width="11.20" height="2.60" rx="2.6" ry="1.30" fill="#1a1a1a" filter="url(#bl)" transform="rotate(-2.00 288.50 117.30)"/>
<rect x="235.00" y="108.20" width="61.50" height="15.50" fill="none" stroke="#231815" stroke-width="2.2"/>
<defs><linearGradient id="g698" x1="0" y1="0" x2="0" y2="1"><stop offset="0" stop-color="#f2f2f2"/><stop offset="1" stop-color="#dedede"/></linearGradient></defs>
<rect x="235.00" y="129.30" width="61.50" height="15.50" fill="url(#g698)"/>
<rect x="238.00" y="137.00" width="12.10" height="2.80" rx="2.6" ry="1.40" fill="#1a1a1a" filter="url(#bl)"/>
<rect x="252.80" y="136.95" width="12.40" height="2.90" rx="2.6" ry="1.45" fill="#1a1a1a" filter="url(#bl)"/>
<rect x="267.60" y="137.15" width="12.60" height="2.90" rx="2.6" ry="1.45" fill="#111" filter="url(#bl)"/>
<rect x="282.30" y="137.40" width="12.40" height="2.80" rx="2.6" ry="1.40" fill="#1a1a1a" filter="url(#bl)"/>
<rect x="235.00" y="129.30" width="61.50" height="15.50" fill="none" stroke="#231815" stroke-width="2.2"/>
<text x="199.80" y="118.00" font-size="10" fill="#2a2a2a" font-family='"Liberation Sans", sans-serif' textLength="25.70" lengthAdjust="spacingAndGlyphs" >TSPO</text>
<text x="197.50" y="139.00" font-size="10" fill="#2a2a2a" font-family='"Liberation Sans", sans-serif' textLength="27.90" lengthAdjust="spacingAndGlyphs" >&#946;-actin</text>
<text x="300.20" y="119.00" font-size="9.8" fill="#2a2a2a" font-family='"Liberation Sans", sans-serif' textLength="26.10" lengthAdjust="spacingAndGlyphs" >19kDa</text>
<text x="299.70" y="138.90" font-size="9.8" fill="#2a2a2a" font-family='"Liberation Sans", sans-serif' textLength="26.60" lengthAdjust="spacingAndGlyphs" >42kDa</text>
<rect x="352.3" y="84.9" width="95.5" height="62.3" fill="#fff" stroke="#8a8a8a" stroke-width="1.1"/>
<rect x="357.0" y="91.80" width="17.9" height="6.9" fill="#fff" stroke="#a3a3a3" stroke-width="2"/>
<text x="382.80" y="98.80" font-size="9.6" fill="#2a2a2a" font-family='"Liberation Sans", sans-serif' textLength="27.70" lengthAdjust="spacingAndGlyphs" >control</text>
<rect x="357.0" y="105.30" width="17.9" height="6.9" fill="#fff" stroke="#1b4aa8" stroke-width="2"/>
<text x="382.80" y="111.80" font-size="9.6" fill="#2a2a2a" font-family='"Liberation Sans", sans-serif' textLength="37.40" lengthAdjust="spacingAndGlyphs" >PK11195</text>
<rect x="357.0" y="119.10" width="17.9" height="6.9" fill="#fff" stroke="#a01520" stroke-width="2"/>
<text x="382.80" y="125.60" font-size="9.6" fill="#2a2a2a" font-family='"Liberation Sans", sans-serif' textLength="19.50" lengthAdjust="spacingAndGlyphs" >CRS</text>
<rect x="357.0" y="132.40" width="17.9" height="6.9" fill="#fff" stroke="#76189a" stroke-width="2"/>
<text x="382.80" y="139.30" font-size="9.6" fill="#2a2a2a" font-family='"Liberation Sans", sans-serif' textLength="61.40" lengthAdjust="spacingAndGlyphs" >CRS+PK11195</text>
<rect x="588.65" y="649.95" width="10.70" height="2.40" fill="#f0f0f0" stroke="#a8a8a8" stroke-width="1.1"/>
<rect x="602.15" y="649.95" width="11.20" height="2.40" fill="#dde6f4" stroke="#1e56b8" stroke-width="1.1"/>
<rect x="616.65" y="649.95" width="10.90" height="2.40" fill="#f6e2e2" stroke="#b0202a" stroke-width="1.1"/>
<rect x="630.65" y="649.95" width="11.60" height="2.40" fill="#efe2f4" stroke="#8a2cb0" stroke-width="1.1"/>
<defs><linearGradient id="g722" x1="0" y1="0" x2="0" y2="1"><stop offset="0" stop-color="#bdbdbd"/><stop offset="1" stop-color="#b0b0b0"/></linearGradient></defs>
<rect x="588.00" y="657.00" width="52.60" height="10.40" fill="url(#g722)"/>
<rect x="589.60" y="661.90" width="10.10" height="2.20" rx="2.6" ry="1.10" fill="#2a2a2a" filter="url(#bl)"/>
<rect x="602.30" y="662.10" width="8.90" height="1.80" rx="2.6" ry="0.90" fill="#6a6a6a" filter="url(#bl)"/>
<rect x="614.60" y="661.10" width="11.40" height="3.80" rx="2.6" ry="1.90" fill="#000" filter="url(#bl)"/>
<rect x="628.60" y="661.50" width="10.60" height="2.60" rx="2.6" ry="1.30" fill="#1a1a1a" filter="url(#bl)"/>
<rect x="588.00" y="657.00" width="52.60" height="10.40" fill="none" stroke="#231815" stroke-width="2.2"/>
<text x="552.80" y="665.80" font-size="9.8" fill="#2a2a2a" font-family='"Liberation Sans", sans-serif' textLength="30.90" lengthAdjust="spacingAndGlyphs" >ACBD3</text>
<text x="642.50" y="664.00" font-size="9.8" fill="#222" font-family='"Liberation Sans", sans-serif' textLength="26.00" lengthAdjust="spacingAndGlyphs" >61kDa</text>
<defs><linearGradient id="g731" x1="0" y1="0" x2="0" y2="1"><stop offset="0" stop-color="#ffffff"/><stop offset="1" stop-color="#f4f4f4"/></linearGradient></defs>
<rect x="588.00" y="672.20" width="52.60" height="13.60" fill="url(#g731)"/>
<rect x="590.90" y="678.20" width="11.30" height="2.00" rx="2.6" ry="1.00" fill="#4a4a4a" filter="url(#bl)"/>
<rect x="603.90" y="677.60" width="11.10" height="2.80" rx="2.6" ry="1.40" fill="#1a1a1a" filter="url(#bl)"/>
<rect x="616.30" y="677.60" width="10.80" height="2.80" rx="2.6" ry="1.40" fill="#1a1a1a" filter="url(#bl)"/>
<rect x="628.60" y="677.30" width="10.50" height="3.00" rx="2.6" ry="1.50" fill="#111" filter="url(#bl)"/>
<rect x="588.00" y="672.20" width="52.60" height="13.60" fill="none" stroke="#231815" stroke-width="2.2"/>
<text x="555.50" y="681.60" font-size="9.8" fill="#2a2a2a" font-family='"Liberation Sans", sans-serif' textLength="28.00" lengthAdjust="spacingAndGlyphs" >&#946;-actin</text>
<text x="641.90" y="681.80" font-size="9.8" fill="#222" font-family='"Liberation Sans", sans-serif' textLength="26.60" lengthAdjust="spacingAndGlyphs" >42kDa</text>
<defs><linearGradient id="g740" x1="0" y1="0" x2="0" y2="1"><stop offset="0" stop-color="#f0f0f0"/><stop offset="1" stop-color="#d8d8d8"/></linearGradient></defs>
<rect x="588.00" y="691.60" width="52.60" height="12.50" fill="url(#g740)"/>
<rect x="588.30" y="696.80" width="11.80" height="3.20" rx="2.6" ry="1.60" fill="#0a0a0a" filter="url(#bl)"/>
<rect x="601.40" y="697.00" width="10.90" height="2.80" rx="2.6" ry="1.40" fill="#1a1a1a" filter="url(#bl)"/>
<rect x="613.70" y="696.50" width="12.20" height="4.20" rx="2.6" ry="2.10" fill="#000" filter="url(#bl)"/>
<rect x="626.80" y="697.00" width="12.30" height="2.80" rx="2.6" ry="1.40" fill="#1a1a1a" filter="url(#bl)"/>
<rect x="588.00" y="691.60" width="52.60" height="12.50" fill="none" stroke="#231815" stroke-width="2.2"/>
<text x="565.50" y="700.90" font-size="9.8" fill="#2a2a2a" font-family='"Liberation Sans", sans-serif' textLength="18.40" lengthAdjust="spacingAndGlyphs" >PKA</text>
<text x="641.90" y="699.40" font-size="9.8" fill="#222" font-family='"Liberation Sans", sans-serif' textLength="26.60" lengthAdjust="spacingAndGlyphs" >41kDa</text>
<defs><linearGradient id="g749" x1="0" y1="0" x2="0" y2="1"><stop offset="0" stop-color="#e6e6e6"/><stop offset="1" stop-color="#f4f4f4"/></linearGradient></defs>
<rect x="588.00" y="709.60" width="52.60" height="11.80" fill="url(#g749)"/>
<rect x="589.60" y="713.80" width="10.50" height="3.40" rx="2.6" ry="1.70" fill="#000" filter="url(#bl)"/>
<rect x="601.80" y="713.60" width="11.40" height="3.20" rx="2.6" ry="1.60" fill="#0a0a0a" filter="url(#bl)"/>
<rect x="615.00" y="713.70" width="11.40" height="3.00" rx="2.6" ry="1.50" fill="#111" filter="url(#bl)"/>
<rect x="628.10" y="712.60" width="11.00" height="3.20" rx="2.6" ry="1.60" fill="#0a0a0a" filter="url(#bl)"/>
<rect x="588.00" y="709.60" width="52.60" height="11.80" fill="none" stroke="#231815" stroke-width="2.2"/>
<text x="555.50" y="716.70" font-size="9.8" fill="#2a2a2a" font-family='"Liberation Sans", sans-serif' textLength="28.00" lengthAdjust="spacingAndGlyphs" >&#946;-actin</text>
<text x="641.90" y="717.30" font-size="9.8" fill="#222" font-family='"Liberation Sans", sans-serif' textLength="26.60" lengthAdjust="spacingAndGlyphs" >42kDa</text>
<defs><linearGradient id="g758" x1="0" y1="0" x2="0" y2="1"><stop offset="0" stop-color="#c4c4c4"/><stop offset="1" stop-color="#bcbcbc"/></linearGradient></defs>
<rect x="588.00" y="728.00" width="52.60" height="14.40" fill="url(#g758)"/>
<rect x="589.60" y="733.90" width="11.40" height="3.00" rx="2.6" ry="1.50" fill="#0a0a0a" filter="url(#bl)"/>
<rect x="602.80" y="734.40" width="10.40" height="2.40" rx="2.6" ry="1.20" fill="#1a1a1a" filter="url(#bl)"/>
<ellipse cx="621.55" cy="735.80" rx="6.35" ry="2.30" fill="#000" filter="url(#bl)"/>
<rect x="629.50" y="734.50" width="10.40" height="2.60" rx="2.6" ry="1.30" fill="#111" filter="url(#bl)"/>
<rect x="588.00" y="728.00" width="52.60" height="14.40" fill="none" stroke="#231815" stroke-width="2.2"/>
<text x="558.20" y="736.30" font-size="9.8" fill="#2a2a2a" font-family='"Liberation Sans", sans-serif' textLength="25.50" lengthAdjust="spacingAndGlyphs" >CaMK</text>
<text x="642.20" y="738.30" font-size="9.8" fill="#222" font-family='"Liberation Sans", sans-serif' textLength="26.30" lengthAdjust="spacingAndGlyphs" >54kDa</text>
<defs><linearGradient id="g767" x1="0" y1="0" x2="0" y2="1"><stop offset="0" stop-color="#ffffff"/><stop offset="1" stop-color="#f6f6f6"/></linearGradient></defs>
<rect x="588.00" y="748.10" width="52.60" height="12.70" fill="url(#g767)"/>
<rect x="590.10" y="753.30" width="12.10" height="2.60" rx="2.6" ry="1.30" fill="#1a1a1a" filter="url(#bl)"/>
<rect x="604.10" y="754.20" width="10.90" height="2.00" rx="2.6" ry="1.00" fill="#3a3a3a" filter="url(#bl)"/>
<rect x="616.30" y="754.20" width="10.50" height="2.00" rx="2.6" ry="1.00" fill="#3a3a3a" filter="url(#bl)"/>
<rect x="628.60" y="754.50" width="10.90" height="2.20" rx="2.6" ry="1.10" fill="#333" filter="url(#bl)"/>
<rect x="588.00" y="748.10" width="52.60" height="12.70" fill="none" stroke="#231815" stroke-width="2.2"/>
<text x="555.50" y="759.00" font-size="9.8" fill="#2a2a2a" font-family='"Liberation Sans", sans-serif' textLength="28.00" lengthAdjust="spacingAndGlyphs" >&#946;-actin</text>
<text x="641.90" y="758.10" font-size="9.8" fill="#222" font-family='"Liberation Sans", sans-serif' textLength="26.60" lengthAdjust="spacingAndGlyphs" >42kDa</text>
</svg>
</body></html>
